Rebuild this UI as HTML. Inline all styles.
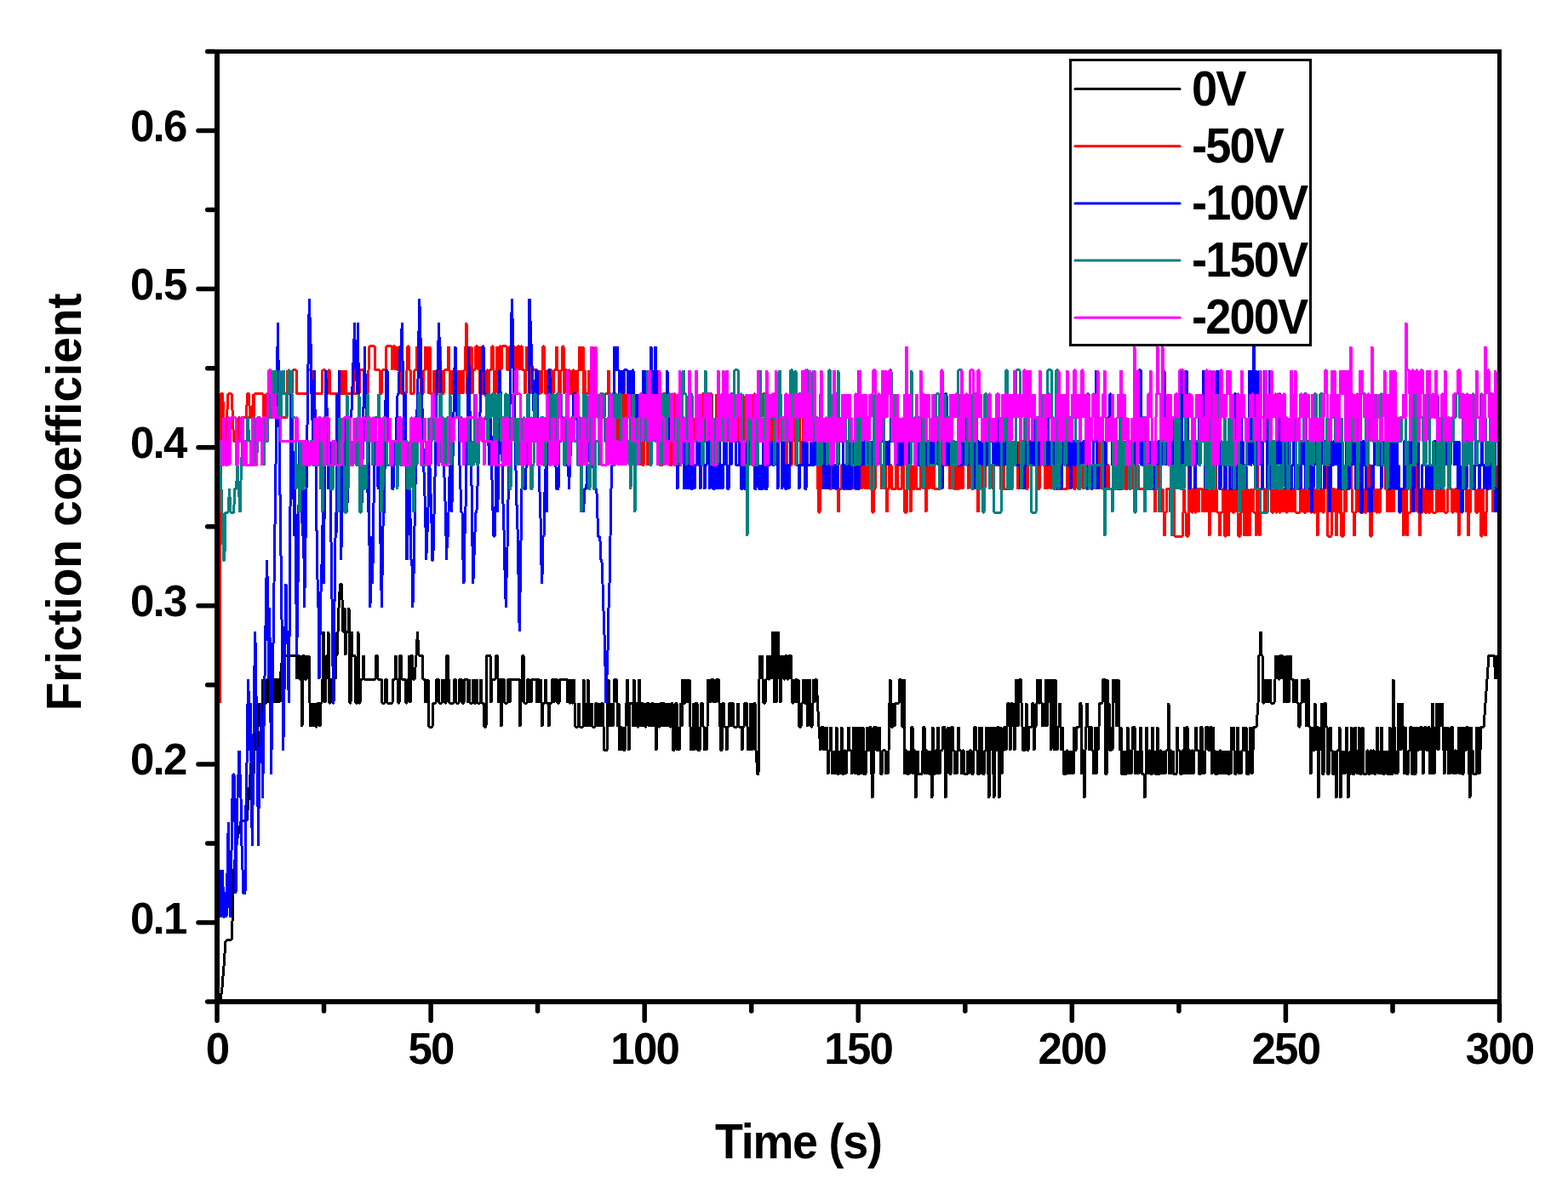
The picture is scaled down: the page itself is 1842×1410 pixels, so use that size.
<!DOCTYPE html>
<html><head><meta charset="utf-8"><title>Friction coefficient vs Time</title>
<style>
html,body{margin:0;padding:0;background:#fff;}
svg{display:block;}
text{font-family:"Liberation Sans",Arial,sans-serif;font-weight:bold;fill:#000;}
</style></head>
<body>
<svg width="1842" height="1410" viewBox="0 0 1842 1410">
<rect width="1842" height="1410" fill="#fff"/>
<defs><clipPath id="pc"><rect x="258" y="63" width="1501" height="1111"/></clipPath>
<clipPath id="lc"><rect x="1259" y="72" width="279" height="332"/></clipPath></defs>
<g clip-path="url(#pc)" fill="none" stroke-width="3" stroke-linejoin="bevel" shape-rendering="crispEdges">
<path d="M259.0 1175.0L261.0 1160.0L263.0 1135.0L265.0 1106.0L268.0 1104.0L272.0 1104.0L273.0 1083.0L274.0 1050.0L275.0 1021.0L277.0 1000.0L279.0 985.0L283.0 965.0L290.0 964.0L292.0 940.0L294.0 910.0L296.0 881.9L298.0 909.8L300.0 854.0L302.0 881.9L304.0 826.0L306.0 854.0L308.0 826.0L309.0 798.0L310.0 826.0L311.0 798.0L312.0 826.0L313.0 826.0L314.0 798.0L315.0 798.0L316.0 826.0L317.0 798.0L318.0 826.0L319.0 798.0L320.0 826.0L321.0 798.0L322.0 826.0L323.0 798.0L324.0 798.0L325.0 826.0L326.0 798.0L327.0 798.0L328.0 826.0L329.0 798.0L332.0 770.1L336.0 770.1L340.0 770.1L344.0 770.1L347.0 770.1L348.0 770.1L349.0 798.0L350.0 770.1L351.0 770.1L352.0 798.0L353.0 798.0L354.0 770.1L355.0 854.0L356.0 770.1L357.0 770.1L358.0 798.0L359.0 798.0L360.0 798.0L361.0 770.1L362.0 798.0L363.0 770.1L364.0 826.0L365.0 854.0L366.0 826.0L367.0 854.0L368.0 826.0L369.0 854.0L370.0 826.0L371.0 854.0L372.0 854.0L373.0 826.0L374.0 826.0L375.0 826.0L376.0 854.0L377.0 826.0L378.0 826.0L379.0 798.0L380.0 742.1L381.0 770.1L382.0 826.0L383.0 798.0L384.0 770.1L385.0 770.1L386.0 742.1L387.0 826.0L388.0 826.0L389.0 798.0L390.0 798.0L391.0 826.0L392.0 826.0L393.0 742.1L394.0 798.0L395.0 770.1L396.0 770.1L398.0 714.2L399.5 686.2L401.0 686.2L402.5 714.2L403.0 742.1L404.0 742.1L405.0 714.2L406.0 770.1L407.0 742.1L408.0 742.1L409.0 742.1L410.0 714.2L411.0 826.0L412.0 826.0L413.0 742.1L414.0 770.1L415.0 770.1L416.0 770.1L417.0 770.1L418.0 826.0L419.0 826.0L420.0 826.0L421.0 742.1L422.0 826.0L423.0 826.0L424.0 798.0L425.0 798.0L426.0 798.0L427.0 770.1L428.0 798.0L429.0 798.0L430.0 798.0L431.0 798.0L432.0 798.0L433.0 798.0L434.0 798.0L435.0 798.0L436.0 798.0L437.0 798.0L438.0 798.0L439.0 798.0L440.0 798.0L441.0 798.0L442.0 770.1L443.0 770.1L444.0 798.0L445.0 798.0L446.0 798.0L447.0 798.0L448.0 798.0L449.0 826.0L450.0 826.0L451.0 826.0L452.0 826.0L453.0 798.0L454.0 798.0L455.0 826.0L456.0 826.0L457.0 826.0L458.0 826.0L459.0 826.0L460.0 826.0L461.0 826.0L462.0 798.0L463.0 798.0L464.0 798.0L465.0 770.1L466.0 798.0L467.0 798.0L468.0 826.0L469.0 826.0L470.0 770.1L471.0 770.1L472.0 798.0L473.0 798.0L474.0 798.0L475.0 798.0L476.0 798.0L477.0 826.0L478.0 826.0L479.0 798.0L480.0 798.0L481.0 770.1L482.0 826.0L483.0 770.1L484.0 770.1L485.0 798.0L486.0 798.0L487.0 798.0L489.0 770.1L490.5 742.1L492.0 770.1L494.0 770.1L495.0 770.1L496.0 770.1L497.0 798.0L498.0 798.0L499.0 798.0L500.0 826.0L501.0 798.0L502.0 826.0L503.0 798.0L504.0 854.0L505.0 854.0L506.0 854.0L507.0 854.0L508.0 854.0L509.0 826.0L510.0 826.0L511.0 826.0L512.0 826.0L513.0 798.0L514.0 798.0L515.0 798.0L516.0 826.0L517.0 826.0L518.0 826.0L519.0 826.0L520.0 798.0L521.0 826.0L522.0 798.0L523.0 826.0L524.0 826.0L525.0 770.1L526.0 770.1L527.0 798.0L528.0 826.0L529.0 826.0L530.0 826.0L531.0 826.0L532.0 826.0L533.0 826.0L534.0 798.0L535.0 798.0L536.0 826.0L537.0 826.0L538.0 826.0L539.0 826.0L540.0 798.0L541.0 798.0L542.0 798.0L543.0 826.0L544.0 826.0L545.0 826.0L546.0 798.0L547.0 798.0L548.0 798.0L549.0 798.0L550.0 826.0L551.0 798.0L552.0 826.0L553.0 826.0L554.0 826.0L555.0 826.0L556.0 798.0L557.0 826.0L558.0 826.0L559.0 826.0L560.0 798.0L561.0 826.0L562.0 826.0L563.0 826.0L564.0 826.0L565.0 798.0L566.0 826.0L567.0 826.0L568.0 826.0L569.0 854.0L570.0 854.0L571.0 854.0L572.0 770.1L573.0 770.1L574.0 770.1L575.0 770.1L576.0 770.1L577.0 826.0L578.0 798.0L579.0 798.0L580.0 798.0L581.0 798.0L582.0 798.0L583.0 770.1L584.0 770.1L585.0 798.0L586.0 826.0L587.0 798.0L588.0 798.0L589.0 854.0L590.0 798.0L591.0 798.0L592.0 798.0L593.0 826.0L594.0 826.0L595.0 826.0L596.0 826.0L597.0 798.0L598.0 798.0L599.0 826.0L600.0 798.0L601.0 798.0L602.0 798.0L603.0 798.0L604.0 798.0L605.0 798.0L606.0 798.0L607.0 798.0L608.0 798.0L609.0 798.0L610.0 798.0L611.0 854.0L612.0 826.0L613.0 798.0L614.0 770.1L615.0 770.1L616.0 826.0L617.0 826.0L618.0 826.0L619.0 826.0L620.0 798.0L621.0 798.0L622.0 826.0L623.0 798.0L624.0 826.0L625.0 798.0L626.0 798.0L627.0 798.0L628.0 798.0L629.0 798.0L630.0 798.0L631.0 826.0L632.0 798.0L633.0 798.0L634.0 826.0L635.0 798.0L636.0 826.0L637.0 854.0L638.0 826.0L639.0 826.0L640.0 826.0L641.0 798.0L642.0 826.0L643.0 826.0L644.0 826.0L645.0 854.0L646.0 826.0L647.0 826.0L648.0 826.0L649.0 798.0L650.0 798.0L651.0 826.0L652.0 798.0L653.0 798.0L654.0 798.0L655.0 826.0L656.0 826.0L657.0 826.0L658.0 798.0L659.0 798.0L660.0 798.0L661.0 798.0L662.0 798.0L663.0 798.0L664.0 798.0L665.0 798.0L666.0 798.0L667.0 826.0L668.0 798.0L669.0 826.0L670.0 826.0L671.0 798.0L672.0 826.0L673.0 826.0L674.0 798.0L675.0 826.0L676.0 854.0L677.0 854.0L678.0 854.0L679.0 854.0L680.0 826.0L681.0 854.0L682.0 854.0L683.0 854.0L684.0 854.0L685.0 854.0L686.0 798.0L687.0 854.0L688.0 826.0L689.0 854.0L690.0 826.0L691.0 798.0L692.0 854.0L693.0 826.0L694.0 854.0L695.0 826.0L696.0 854.0L697.0 854.0L698.0 854.0L699.0 854.0L700.0 826.0L701.0 826.0L702.0 854.0L703.0 826.0L704.0 854.0L705.0 826.0L706.0 854.0L707.0 826.0L708.0 826.0L710.0 881.9L712.0 881.9L713.0 881.9L714.0 826.0L715.0 798.0L716.0 854.0L717.0 826.0L718.0 854.0L719.0 826.0L720.0 854.0L721.0 826.0L722.0 798.0L723.0 798.0L724.0 798.0L725.0 826.0L726.0 854.0L727.0 826.0L728.0 881.9L729.0 854.0L730.0 854.0L731.0 881.9L732.0 854.0L733.0 881.9L734.0 881.9L735.0 854.0L736.0 826.0L737.0 798.0L738.0 826.0L739.0 881.9L740.0 826.0L741.0 826.0L742.0 826.0L743.0 826.0L744.0 854.0L745.0 798.0L746.0 854.0L747.0 826.0L748.0 826.0L749.0 854.0L750.0 854.0L751.0 798.0L752.0 826.0L753.0 854.0L754.0 826.0L755.0 826.0L756.0 854.0L757.0 826.0L758.0 854.0L759.0 854.0L760.0 826.0L761.0 826.0L762.0 826.0L763.0 854.0L764.0 826.0L765.0 854.0L766.0 826.0L767.0 826.0L768.0 854.0L769.0 826.0L770.0 854.0L771.0 881.9L772.0 854.0L773.0 826.0L774.0 854.0L775.0 854.0L776.0 826.0L777.0 826.0L778.0 854.0L779.0 826.0L780.0 826.0L781.0 854.0L782.0 826.0L783.0 854.0L784.0 826.0L785.0 854.0L786.0 826.0L787.0 854.0L788.0 854.0L789.0 826.0L790.0 826.0L791.0 881.9L792.0 881.9L793.0 854.0L794.0 826.0L795.0 826.0L796.0 881.9L797.0 854.0L798.0 881.9L799.0 854.0L800.0 826.0L801.0 854.0L802.0 798.0L803.0 826.0L804.0 826.0L805.0 826.0L806.0 798.0L807.0 826.0L808.0 798.0L809.0 826.0L810.0 798.0L811.0 854.0L812.0 881.9L813.0 854.0L814.0 881.9L815.0 826.0L816.0 881.9L817.0 826.0L818.0 826.0L819.0 826.0L820.0 881.9L821.0 881.9L822.0 881.9L823.0 854.0L824.0 826.0L825.0 826.0L826.0 854.0L827.0 854.0L828.0 881.9L829.0 854.0L830.0 881.9L831.0 854.0L832.0 798.0L833.0 826.0L834.0 798.0L835.0 826.0L836.0 798.0L837.0 798.0L838.0 798.0L839.0 826.0L840.0 798.0L841.0 826.0L842.0 798.0L843.0 798.0L844.0 798.0L845.0 826.0L846.0 854.0L847.0 881.9L848.0 881.9L849.0 826.0L850.0 826.0L851.0 854.0L852.0 854.0L853.0 854.0L854.0 881.9L855.0 854.0L856.0 854.0L857.0 826.0L858.0 826.0L859.0 854.0L860.0 826.0L861.0 826.0L862.0 854.0L863.0 854.0L864.0 854.0L865.0 854.0L866.0 854.0L867.0 826.0L868.0 854.0L869.0 854.0L870.0 854.0L871.0 854.0L872.0 881.9L873.0 854.0L874.0 854.0L875.0 826.0L876.0 826.0L877.0 826.0L878.0 854.0L879.0 881.9L880.0 854.0L881.0 881.9L882.0 826.0L883.0 854.0L884.0 881.9L885.0 854.0L886.0 826.0L887.0 826.0L888.0 881.9L890.0 909.8L891.0 909.8L892.0 798.0L893.0 770.1L894.0 798.0L895.0 770.1L896.0 798.0L897.0 826.0L898.0 826.0L899.0 826.0L900.0 798.0L901.0 798.0L902.0 770.1L903.0 798.0L904.0 798.0L905.0 770.1L906.0 798.0L907.0 770.1L908.0 742.1L909.0 798.0L910.0 826.0L911.0 742.1L912.0 826.0L913.0 798.0L914.0 742.1L915.0 770.1L916.0 798.0L917.0 826.0L918.0 770.1L919.0 798.0L920.0 770.1L921.0 798.0L922.0 798.0L923.0 770.1L924.0 770.1L925.0 798.0L926.0 798.0L927.0 770.1L928.0 770.1L929.0 770.1L930.0 798.0L931.0 826.0L932.0 826.0L933.0 798.0L934.0 826.0L935.0 798.0L936.0 798.0L937.0 826.0L938.0 798.0L939.0 854.0L940.0 854.0L941.0 854.0L942.0 826.0L943.0 826.0L944.0 798.0L945.0 826.0L946.0 826.0L947.0 826.0L948.0 798.0L949.0 854.0L950.0 826.0L951.0 798.0L952.0 826.0L953.0 854.0L954.0 854.0L955.0 826.0L956.0 798.0L957.0 826.0L958.0 798.0L959.0 798.0L962.0 854.0L964.0 881.9L965.0 854.0L966.0 854.0L967.0 854.0L968.0 881.9L969.0 854.0L970.0 881.9L971.0 854.0L972.0 881.9L973.0 909.8L974.0 881.9L975.0 881.9L976.0 854.0L977.0 881.9L978.0 909.8L979.0 881.9L980.0 909.8L981.0 881.9L982.0 909.8L983.0 854.0L984.0 909.8L985.0 909.8L986.0 881.9L987.0 909.8L988.0 881.9L989.0 854.0L990.0 909.8L991.0 909.8L992.0 881.9L993.0 881.9L994.0 909.8L995.0 881.9L996.0 881.9L997.0 854.0L998.0 881.9L999.0 881.9L1000.0 881.9L1001.0 909.8L1002.0 881.9L1003.0 854.0L1004.0 881.9L1005.0 909.8L1006.0 881.9L1007.0 854.0L1008.0 909.8L1009.0 909.8L1010.0 854.0L1011.0 881.9L1012.0 909.8L1013.0 881.9L1014.0 854.0L1015.0 909.8L1016.0 909.8L1017.0 909.8L1018.0 881.9L1019.0 854.0L1020.0 881.9L1021.0 881.9L1022.0 854.0L1023.0 854.0L1024.0 909.8L1025.0 937.8L1026.0 909.8L1027.0 854.0L1028.0 854.0L1029.0 854.0L1030.0 881.9L1031.0 881.9L1032.0 881.9L1033.0 854.0L1034.0 881.9L1035.0 909.8L1036.0 909.8L1037.0 881.9L1038.0 881.9L1039.0 881.9L1040.0 881.9L1041.0 909.8L1042.0 881.9L1043.0 909.8L1044.0 881.9L1045.0 826.0L1046.0 798.0L1047.0 854.0L1048.0 854.0L1049.0 854.0L1050.0 826.0L1051.0 854.0L1052.0 826.0L1053.0 826.0L1054.0 826.0L1055.0 826.0L1056.0 826.0L1057.0 798.0L1058.0 798.0L1059.0 826.0L1060.0 854.0L1061.0 854.0L1062.0 798.0L1063.0 909.8L1064.0 881.9L1065.0 881.9L1066.0 909.8L1067.0 909.8L1068.0 881.9L1069.0 909.8L1070.0 881.9L1071.0 854.0L1072.0 854.0L1073.0 909.8L1074.0 881.9L1075.0 881.9L1076.0 937.8L1077.0 909.8L1078.0 881.9L1079.0 909.8L1080.0 909.8L1081.0 909.8L1082.0 909.8L1083.0 909.8L1084.0 881.9L1085.0 854.0L1086.0 854.0L1087.0 909.8L1088.0 881.9L1089.0 881.9L1090.0 909.8L1091.0 881.9L1092.0 909.8L1093.0 909.8L1094.0 881.9L1095.0 937.8L1096.0 854.0L1097.0 909.8L1098.0 909.8L1099.0 881.9L1100.0 881.9L1101.0 909.8L1102.0 854.0L1103.0 881.9L1104.0 909.8L1105.0 881.9L1106.0 881.9L1107.0 881.9L1108.0 854.0L1109.0 854.0L1110.0 854.0L1111.0 937.8L1112.0 909.8L1113.0 881.9L1114.0 854.0L1115.0 881.9L1116.0 909.8L1117.0 909.8L1118.0 854.0L1119.0 854.0L1120.0 881.9L1121.0 881.9L1122.0 909.8L1123.0 881.9L1124.0 909.8L1125.0 881.9L1126.0 854.0L1127.0 881.9L1128.0 881.9L1129.0 881.9L1130.0 909.8L1131.0 881.9L1132.0 881.9L1133.0 909.8L1134.0 909.8L1135.0 909.8L1136.0 909.8L1137.0 881.9L1138.0 909.8L1139.0 881.9L1140.0 881.9L1141.0 881.9L1142.0 909.8L1143.0 909.8L1144.0 881.9L1145.0 854.0L1146.0 854.0L1147.0 881.9L1148.0 881.9L1149.0 909.8L1150.0 909.8L1151.0 854.0L1152.0 909.8L1153.0 854.0L1154.0 881.9L1155.0 909.8L1156.0 909.8L1157.0 881.9L1158.0 881.9L1159.0 854.0L1160.0 881.9L1161.0 909.8L1162.0 937.8L1163.0 854.0L1164.0 881.9L1165.0 854.0L1166.0 881.9L1167.0 909.8L1168.0 937.8L1169.0 854.0L1170.0 881.9L1171.0 881.9L1172.0 854.0L1173.0 854.0L1174.0 937.8L1175.0 909.8L1176.0 854.0L1177.0 909.8L1178.0 881.9L1179.0 881.9L1180.0 854.0L1181.0 854.0L1182.0 881.9L1183.0 854.0L1184.0 826.0L1185.0 826.0L1186.0 854.0L1187.0 881.9L1188.0 826.0L1189.0 826.0L1190.0 854.0L1191.0 826.0L1192.0 881.9L1193.0 826.0L1194.0 798.0L1195.0 826.0L1196.0 854.0L1197.0 826.0L1198.0 798.0L1199.0 798.0L1200.0 826.0L1201.0 854.0L1202.0 881.9L1203.0 881.9L1204.0 881.9L1205.0 854.0L1206.0 826.0L1207.0 881.9L1208.0 881.9L1209.0 854.0L1210.0 854.0L1211.0 854.0L1212.0 854.0L1213.0 826.0L1214.0 826.0L1215.0 881.9L1216.0 854.0L1217.0 854.0L1218.0 826.0L1219.0 798.0L1220.0 826.0L1221.0 826.0L1222.0 798.0L1223.0 826.0L1224.0 826.0L1225.0 854.0L1226.0 826.0L1227.0 854.0L1228.0 826.0L1229.0 798.0L1230.0 854.0L1231.0 826.0L1232.0 798.0L1233.0 826.0L1234.0 798.0L1235.0 881.9L1236.0 798.0L1237.0 826.0L1238.0 798.0L1239.0 881.9L1240.0 798.0L1241.0 854.0L1242.0 881.9L1243.0 854.0L1244.0 854.0L1245.0 826.0L1246.0 854.0L1247.0 881.9L1248.0 854.0L1249.0 881.9L1250.0 909.8L1251.0 909.8L1252.0 909.8L1253.0 881.9L1254.0 881.9L1255.0 909.8L1256.0 881.9L1257.0 909.8L1258.0 881.9L1259.0 909.8L1260.0 881.9L1261.0 909.8L1262.0 854.0L1263.0 881.9L1264.0 881.9L1265.0 854.0L1266.0 854.0L1267.0 854.0L1268.0 854.0L1269.0 826.0L1270.0 826.0L1271.0 909.8L1272.0 881.9L1273.0 881.9L1274.0 937.8L1275.0 881.9L1276.0 854.0L1277.0 826.0L1278.0 854.0L1279.0 854.0L1280.0 881.9L1281.0 854.0L1282.0 854.0L1283.0 881.9L1284.0 881.9L1285.0 909.8L1286.0 881.9L1287.0 854.0L1288.0 909.8L1289.0 854.0L1290.0 881.9L1291.0 854.0L1292.0 826.0L1293.0 826.0L1294.0 826.0L1295.0 826.0L1296.0 798.0L1297.0 798.0L1298.0 798.0L1299.0 909.8L1300.0 909.8L1301.0 798.0L1302.0 854.0L1303.0 826.0L1304.0 881.9L1305.0 881.9L1306.0 854.0L1307.0 881.9L1308.0 798.0L1309.0 826.0L1310.0 798.0L1311.0 826.0L1312.0 854.0L1313.0 826.0L1314.0 798.0L1315.0 854.0L1316.0 881.9L1317.0 854.0L1318.0 909.8L1319.0 909.8L1320.0 881.9L1321.0 909.8L1322.0 909.8L1323.0 909.8L1324.0 881.9L1325.0 854.0L1326.0 909.8L1327.0 881.9L1328.0 881.9L1329.0 909.8L1330.0 881.9L1331.0 854.0L1332.0 854.0L1333.0 854.0L1334.0 909.8L1335.0 881.9L1336.0 909.8L1337.0 881.9L1338.0 909.8L1339.0 881.9L1340.0 854.0L1341.0 881.9L1342.0 909.8L1343.0 909.8L1344.0 909.8L1345.0 937.8L1346.0 909.8L1347.0 854.0L1348.0 881.9L1349.0 909.8L1350.0 881.9L1351.0 881.9L1352.0 909.8L1353.0 909.8L1354.0 854.0L1355.0 881.9L1356.0 909.8L1357.0 881.9L1358.0 909.8L1359.0 909.8L1360.0 854.0L1361.0 909.8L1362.0 909.8L1363.0 881.9L1364.0 881.9L1365.0 909.8L1366.0 881.9L1367.0 909.8L1368.0 881.9L1369.0 909.8L1370.0 881.9L1371.0 881.9L1372.0 881.9L1373.0 826.0L1374.0 909.8L1375.0 881.9L1376.0 881.9L1377.0 909.8L1378.0 881.9L1379.0 909.8L1380.0 909.8L1381.0 909.8L1382.0 909.8L1383.0 854.0L1384.0 881.9L1385.0 881.9L1386.0 881.9L1387.0 909.8L1388.0 909.8L1389.0 881.9L1390.0 881.9L1391.0 909.8L1392.0 854.0L1393.0 909.8L1394.0 854.0L1395.0 854.0L1396.0 909.8L1397.0 881.9L1398.0 881.9L1399.0 909.8L1400.0 881.9L1401.0 881.9L1402.0 909.8L1403.0 881.9L1404.0 881.9L1405.0 854.0L1406.0 881.9L1407.0 881.9L1408.0 881.9L1409.0 909.8L1410.0 909.8L1411.0 854.0L1412.0 854.0L1413.0 909.8L1414.0 881.9L1415.0 909.8L1416.0 881.9L1417.0 854.0L1418.0 854.0L1419.0 854.0L1420.0 881.9L1421.0 881.9L1422.0 854.0L1423.0 854.0L1424.0 909.8L1425.0 854.0L1426.0 881.9L1427.0 881.9L1428.0 909.8L1429.0 909.8L1430.0 909.8L1431.0 881.9L1432.0 909.8L1433.0 881.9L1434.0 881.9L1435.0 909.8L1436.0 881.9L1437.0 909.8L1438.0 881.9L1439.0 909.8L1440.0 881.9L1441.0 909.8L1442.0 881.9L1443.0 909.8L1444.0 909.8L1445.0 881.9L1446.0 909.8L1447.0 854.0L1448.0 881.9L1449.0 854.0L1450.0 881.9L1451.0 909.8L1452.0 909.8L1453.0 881.9L1454.0 854.0L1455.0 881.9L1456.0 909.8L1457.0 881.9L1458.0 909.8L1459.0 881.9L1460.0 881.9L1461.0 854.0L1462.0 881.9L1463.0 881.9L1464.0 854.0L1465.0 909.8L1466.0 909.8L1467.0 909.8L1468.0 881.9L1469.0 854.0L1470.0 881.9L1471.0 909.8L1472.0 881.9L1473.0 854.0L1474.0 854.0L1476.0 854.0L1478.0 826.0L1479.0 770.1L1480.0 770.1L1481.0 742.1L1482.0 770.1L1483.0 770.1L1484.0 826.0L1485.0 826.0L1486.0 798.0L1487.0 826.0L1488.0 798.0L1489.0 826.0L1490.0 798.0L1491.0 826.0L1492.0 798.0L1493.0 826.0L1494.0 826.0L1495.0 826.0L1496.0 826.0L1497.0 826.0L1498.0 798.0L1499.0 770.1L1500.0 798.0L1501.0 770.1L1502.0 798.0L1503.0 798.0L1504.0 770.1L1505.0 770.1L1506.0 770.1L1507.0 798.0L1508.0 770.1L1509.0 826.0L1510.0 798.0L1511.0 826.0L1512.0 770.1L1513.0 798.0L1514.0 826.0L1515.0 798.0L1516.0 770.1L1517.0 798.0L1518.0 798.0L1519.0 798.0L1520.0 826.0L1521.0 798.0L1522.0 826.0L1523.0 798.0L1524.0 826.0L1525.0 826.0L1526.0 854.0L1527.0 854.0L1528.0 826.0L1529.0 826.0L1530.0 798.0L1531.0 826.0L1532.0 798.0L1533.0 826.0L1534.0 798.0L1535.0 854.0L1536.0 798.0L1537.0 798.0L1538.0 854.0L1539.0 854.0L1540.0 909.8L1541.0 881.9L1542.0 854.0L1543.0 881.9L1544.0 881.9L1545.0 826.0L1546.0 881.9L1547.0 854.0L1548.0 854.0L1549.0 937.8L1550.0 881.9L1551.0 854.0L1552.0 881.9L1553.0 826.0L1554.0 909.8L1555.0 909.8L1556.0 826.0L1557.0 826.0L1558.0 854.0L1559.0 854.0L1560.0 909.8L1561.0 909.8L1562.0 881.9L1563.0 854.0L1564.0 881.9L1565.0 881.9L1566.0 909.8L1567.0 909.8L1568.0 881.9L1569.0 909.8L1570.0 937.8L1571.0 881.9L1572.0 881.9L1573.0 881.9L1574.0 854.0L1575.0 937.8L1576.0 909.8L1577.0 881.9L1578.0 909.8L1579.0 881.9L1580.0 909.8L1581.0 881.9L1582.0 854.0L1583.0 881.9L1584.0 937.8L1585.0 909.8L1586.0 909.8L1587.0 881.9L1588.0 854.0L1589.0 909.8L1590.0 909.8L1591.0 909.8L1592.0 854.0L1593.0 881.9L1594.0 881.9L1595.0 909.8L1596.0 881.9L1597.0 854.0L1598.0 909.8L1599.0 909.8L1600.0 881.9L1601.0 854.0L1602.0 909.8L1603.0 909.8L1604.0 909.8L1605.0 909.8L1606.0 881.9L1607.0 881.9L1608.0 909.8L1609.0 909.8L1610.0 881.9L1611.0 881.9L1612.0 909.8L1613.0 881.9L1614.0 881.9L1615.0 909.8L1616.0 909.8L1617.0 881.9L1618.0 854.0L1619.0 881.9L1620.0 909.8L1621.0 881.9L1622.0 909.8L1623.0 854.0L1624.0 881.9L1625.0 909.8L1626.0 909.8L1627.0 881.9L1628.0 909.8L1629.0 881.9L1630.0 909.8L1631.0 909.8L1632.0 909.8L1633.0 854.0L1634.0 909.8L1635.0 909.8L1636.0 909.8L1637.0 798.0L1638.0 854.0L1639.0 881.9L1640.0 909.8L1641.0 881.9L1642.0 909.8L1643.0 826.0L1644.0 881.9L1645.0 826.0L1646.0 881.9L1647.0 826.0L1648.0 854.0L1649.0 854.0L1650.0 909.8L1651.0 854.0L1652.0 881.9L1653.0 909.8L1654.0 909.8L1655.0 881.9L1656.0 881.9L1657.0 854.0L1658.0 854.0L1659.0 909.8L1660.0 909.8L1661.0 854.0L1662.0 909.8L1663.0 909.8L1664.0 854.0L1665.0 881.9L1666.0 881.9L1667.0 854.0L1668.0 881.9L1669.0 854.0L1670.0 854.0L1671.0 881.9L1672.0 909.8L1673.0 881.9L1674.0 854.0L1675.0 854.0L1676.0 881.9L1677.0 881.9L1678.0 854.0L1679.0 854.0L1680.0 909.8L1681.0 881.9L1682.0 909.8L1683.0 826.0L1684.0 854.0L1685.0 909.8L1686.0 881.9L1687.0 854.0L1688.0 826.0L1689.0 854.0L1690.0 881.9L1691.0 854.0L1692.0 826.0L1693.0 854.0L1694.0 826.0L1695.0 854.0L1696.0 881.9L1697.0 909.8L1698.0 881.9L1699.0 854.0L1700.0 881.9L1701.0 854.0L1702.0 909.8L1703.0 881.9L1704.0 909.8L1705.0 854.0L1706.0 854.0L1707.0 881.9L1708.0 909.8L1709.0 881.9L1710.0 881.9L1711.0 909.8L1712.0 881.9L1713.0 881.9L1714.0 854.0L1715.0 909.8L1716.0 854.0L1717.0 881.9L1718.0 909.8L1719.0 909.8L1720.0 854.0L1721.0 881.9L1722.0 881.9L1723.0 854.0L1724.0 854.0L1725.0 881.9L1726.0 909.8L1727.0 937.8L1728.0 854.0L1729.0 881.9L1730.0 881.9L1731.0 909.8L1732.0 909.8L1733.0 909.8L1734.0 909.8L1735.0 854.0L1736.0 909.8L1737.0 854.0L1738.0 909.8L1739.0 881.9L1740.0 854.0L1741.0 854.0L1743.0 854.0L1745.0 826.0L1747.0 798.0L1749.0 770.1L1752.0 770.1L1755.0 770.1L1757.0 798.0L1759.0 770.1" stroke="#000000"/>
<path d="M258.6 826.0L259.4 462.6L260.5 462.6L261.5 462.6L263.0 490.6L264.0 518.5L265.5 518.5L266.5 490.6L268.0 462.6L270.0 462.6L272.0 462.6L273.5 490.6L274.5 518.5L275.5 518.5L276.5 518.5L277.5 518.5L278.5 518.5L279.5 518.5L280.5 490.6L281.5 490.6L282.5 518.5L283.5 518.5L284.5 518.5L285.5 490.6L286.5 490.6L287.5 490.6L288.5 490.6L289.5 490.6L290.5 462.6L291.5 462.6L292.5 462.6L293.5 490.6L294.5 490.6L295.5 490.6L296.5 490.6L297.5 462.6L298.5 518.5L299.0 462.6L300.0 462.6L301.0 462.6L302.0 462.6L303.0 462.6L304.0 462.6L305.0 462.6L306.0 462.6L307.0 462.6L308.0 462.6L309.0 462.6L310.0 490.6L311.0 490.6L312.0 490.6L313.0 462.6L314.0 462.6L315.0 462.6L316.0 462.6L317.0 462.6L318.0 462.6L319.0 462.6L320.0 490.6L321.0 490.6L322.0 490.6L323.0 490.6L324.0 490.6L325.0 490.6L326.0 490.6L327.0 490.6L328.0 490.6L329.0 490.6L330.0 490.6L331.0 490.6L332.0 490.6L333.0 490.6L334.0 490.6L335.0 490.6L336.0 490.6L337.0 490.6L338.0 434.7L339.0 462.6L340.0 462.6L341.0 462.6L342.0 462.6L343.0 462.6L344.0 434.7L345.0 434.7L346.0 434.7L347.0 434.7L348.0 434.7L349.0 462.6L350.0 462.6L351.0 462.6L352.0 462.6L353.0 462.6L354.0 462.6L355.0 462.6L356.0 462.6L357.0 462.6L358.0 462.6L359.0 462.6L360.0 462.6L361.0 462.6L362.0 434.7L363.0 434.7L364.0 434.7L365.0 434.7L366.0 434.7L367.0 462.6L368.0 462.6L369.0 462.6L370.0 462.6L371.0 462.6L372.0 462.6L373.0 462.6L374.0 462.6L375.0 462.6L376.0 462.6L377.0 462.6L378.0 462.6L379.0 434.7L380.0 434.7L381.0 434.7L382.0 434.7L383.0 462.6L384.0 462.6L385.0 462.6L386.0 434.7L387.0 434.7L388.0 462.6L389.0 462.6L390.0 462.6L391.0 462.6L392.0 462.6L393.0 462.6L394.0 462.6L395.0 462.6L396.0 462.6L397.0 462.6L398.0 462.6L399.0 462.6L400.0 462.6L401.0 462.6L402.0 434.7L403.0 462.6L404.0 462.6L405.0 462.6L406.0 434.7L407.0 462.6L408.0 462.6L409.0 462.6L410.0 462.6L411.0 462.6L412.0 462.6L413.0 462.6L414.0 462.6L415.0 434.7L416.0 462.6L417.0 462.6L418.0 462.6L419.0 462.6L420.0 462.6L421.0 462.6L422.0 462.6L423.0 434.7L424.0 434.7L425.0 434.7L426.0 434.7L427.0 434.7L428.0 462.6L429.0 462.6L430.0 462.6L431.0 462.6L432.0 462.6L433.0 434.7L434.0 406.8L435.0 406.8L436.0 406.8L437.0 406.8L438.0 406.8L439.0 406.8L440.0 406.8L441.0 434.7L442.0 434.7L443.0 434.7L444.0 434.7L445.0 434.7L446.0 434.7L447.0 462.6L448.0 462.6L449.0 434.7L450.0 434.7L451.0 434.7L452.0 434.7L453.0 434.7L454.0 406.8L455.0 406.8L456.0 406.8L457.0 406.8L458.0 406.8L459.0 406.8L460.0 406.8L461.0 434.7L462.0 406.8L463.0 406.8L464.0 406.8L465.0 434.7L466.0 406.8L467.0 434.7L468.0 434.7L469.0 434.7L470.0 406.8L471.0 434.7L472.0 462.6L473.0 462.6L474.0 462.6L475.0 462.6L476.0 462.6L477.0 462.6L478.0 434.7L479.0 406.8L480.0 406.8L481.0 434.7L482.0 434.7L483.0 462.6L484.0 462.6L485.0 462.6L486.0 462.6L487.0 434.7L488.0 434.7L489.0 434.7L490.0 406.8L491.0 434.7L492.0 434.7L493.0 434.7L494.0 434.7L495.0 462.6L496.0 462.6L497.0 462.6L498.0 434.7L499.0 434.7L500.0 406.8L501.0 434.7L502.0 406.8L503.0 434.7L504.0 462.6L505.0 406.8L506.0 462.6L507.0 462.6L508.0 462.6L509.0 462.6L510.0 434.7L511.0 462.6L512.0 462.6L513.0 462.6L514.0 462.6L515.0 406.8L516.0 434.7L517.0 406.8L518.0 434.7L519.0 462.6L520.0 462.6L521.0 462.6L522.0 434.7L523.0 434.7L524.0 434.7L525.0 434.7L526.0 434.7L527.0 406.8L528.0 434.7L529.0 462.6L530.0 462.6L531.0 462.6L532.0 434.7L533.0 462.6L534.0 462.6L535.0 462.6L536.0 462.6L537.0 462.6L538.0 434.7L539.0 462.6L540.0 462.6L541.0 434.7L542.0 462.6L543.0 434.7L544.0 462.6L545.0 434.7L546.0 434.7L547.0 406.8L548.0 378.8L549.0 462.6L550.0 462.6L551.0 434.7L552.0 434.7L553.0 434.7L554.0 406.8L555.0 462.6L556.0 434.7L557.0 434.7L558.0 434.7L559.0 406.8L560.0 406.8L561.0 406.8L562.0 434.7L563.0 406.8L564.0 462.6L565.0 406.8L566.0 462.6L567.0 462.6L568.0 462.6L569.0 434.7L570.0 462.6L571.0 462.6L572.0 434.7L573.0 434.7L574.0 462.6L575.0 434.7L576.0 434.7L577.0 434.7L578.0 406.8L579.0 406.8L580.0 434.7L581.0 462.6L582.0 462.6L583.0 434.7L584.0 406.8L585.0 434.7L586.0 462.6L587.0 406.8L588.0 406.8L589.0 434.7L590.0 406.8L591.0 406.8L592.0 406.8L593.0 406.8L594.0 406.8L595.0 406.8L596.0 434.7L597.0 434.7L598.0 434.7L599.0 406.8L600.0 406.8L601.0 406.8L602.0 406.8L603.0 406.8L604.0 406.8L605.0 434.7L606.0 462.6L607.0 462.6L608.0 406.8L609.0 406.8L610.0 406.8L611.0 434.7L612.0 406.8L613.0 406.8L614.0 434.7L615.0 434.7L616.0 434.7L617.0 462.6L618.0 434.7L619.0 406.8L620.0 434.7L621.0 434.7L622.0 406.8L623.0 406.8L624.0 406.8L625.0 462.6L626.0 434.7L627.0 434.7L628.0 434.7L629.0 434.7L630.0 462.6L631.0 462.6L632.0 434.7L633.0 462.6L634.0 462.6L635.0 434.7L636.0 462.6L637.0 434.7L638.0 406.8L639.0 406.8L640.0 434.7L641.0 462.6L642.0 462.6L643.0 434.7L644.0 462.6L645.0 462.6L646.0 434.7L647.0 434.7L648.0 434.7L649.0 462.6L650.0 462.6L651.0 434.7L652.0 434.7L653.0 434.7L654.0 406.8L655.0 434.7L656.0 434.7L657.0 462.6L658.0 462.6L659.0 434.7L660.0 434.7L661.0 406.8L662.0 406.8L663.0 462.6L664.0 434.7L665.0 434.7L666.0 434.7L667.0 462.6L668.0 434.7L669.0 434.7L670.0 462.6L671.0 462.6L672.0 462.6L673.0 434.7L674.0 434.7L675.0 462.6L676.0 462.6L677.0 434.7L678.0 462.6L679.0 434.7L680.0 434.7L681.0 406.8L682.0 434.7L683.0 434.7L684.0 434.7L685.0 406.8L686.0 462.6L687.0 434.7L688.0 462.6L689.0 462.6L690.0 462.6L691.0 462.6L692.0 434.7L693.0 462.6L694.0 462.6L695.0 462.6L696.0 406.8L697.0 462.6L698.0 434.7L699.0 434.7L700.0 434.7L701.0 462.6L702.0 490.6L703.0 490.6L704.0 490.6L705.0 490.6L706.0 490.6L707.0 490.6L708.0 490.6L709.0 462.6L710.0 490.6L711.0 462.6L712.0 462.6L713.0 462.6L714.0 462.6L715.0 434.7L716.0 462.6L717.0 490.6L718.0 490.6L719.0 490.6L720.0 490.6L721.0 462.6L722.0 462.6L723.0 462.6L724.0 462.6L725.0 490.6L726.0 518.5L727.0 490.6L728.0 462.6L729.0 462.6L730.0 462.6L731.0 490.6L732.0 490.6L733.0 434.7L734.0 462.6L735.0 490.6L736.0 490.6L737.0 490.6L738.0 462.6L739.0 490.6L740.0 490.6L741.0 518.5L742.0 462.6L743.0 490.6L744.0 490.6L745.0 490.6L746.0 546.5L747.0 490.6L748.0 490.6L749.0 490.6L750.0 490.6L751.0 490.6L752.0 490.6L753.0 546.5L754.0 490.6L755.0 546.5L756.0 546.5L757.0 518.5L758.0 490.6L759.0 518.5L760.0 490.6L761.0 546.5L762.0 518.5L763.0 462.6L764.0 462.6L765.0 546.5L766.0 490.6L767.0 462.6L768.0 462.6L769.0 462.6L770.0 462.6L771.0 518.5L772.0 490.6L773.0 518.5L774.0 518.5L775.0 462.6L776.0 462.6L777.0 546.5L778.0 546.5L779.0 462.6L780.0 462.6L781.0 462.6L782.0 462.6L783.0 462.6L784.0 462.6L785.0 462.6L786.0 490.6L787.0 546.5L788.0 546.5L789.0 546.5L790.0 490.6L791.0 518.5L792.0 462.6L793.0 462.6L794.0 518.5L795.0 518.5L796.0 490.6L797.0 490.6L798.0 546.5L799.0 546.5L800.0 546.5L801.0 490.6L802.0 490.6L803.0 490.6L804.0 518.5L805.0 490.6L806.0 490.6L807.0 518.5L808.0 490.6L809.0 546.5L810.0 546.5L811.0 546.5L812.0 490.6L813.0 546.5L814.0 546.5L815.0 518.5L816.0 518.5L817.0 490.6L818.0 518.5L819.0 490.6L820.0 518.5L821.0 546.5L822.0 546.5L823.0 462.6L824.0 518.5L825.0 462.6L826.0 462.6L827.0 462.6L828.0 518.5L829.0 518.5L830.0 490.6L831.0 462.6L832.0 462.6L833.0 490.6L834.0 490.6L835.0 462.6L836.0 462.6L837.0 518.5L838.0 490.6L839.0 518.5L840.0 518.5L841.0 518.5L842.0 462.6L843.0 546.5L844.0 546.5L845.0 462.6L846.0 490.6L847.0 490.6L848.0 490.6L849.0 518.5L850.0 490.6L851.0 518.5L852.0 490.6L853.0 518.5L854.0 490.6L855.0 518.5L856.0 490.6L857.0 462.6L858.0 490.6L859.0 462.6L860.0 462.6L861.0 462.6L862.0 462.6L863.0 490.6L864.0 518.5L865.0 518.5L866.0 518.5L867.0 462.6L868.0 490.6L869.0 518.5L870.0 490.6L871.0 462.6L872.0 490.6L873.0 462.6L874.0 546.5L875.0 518.5L876.0 490.6L877.0 546.5L878.0 518.5L879.0 490.6L880.0 518.5L881.0 518.5L882.0 518.5L883.0 518.5L884.0 546.5L885.0 546.5L886.0 462.6L887.0 462.6L888.0 490.6L889.0 490.6L890.0 490.6L891.0 490.6L892.0 490.6L893.0 490.6L894.0 490.6L895.0 490.6L896.0 462.6L897.0 462.6L898.0 462.6L899.0 462.6L900.0 462.6L901.0 518.5L902.0 490.6L903.0 518.5L904.0 462.6L905.0 490.6L906.0 518.5L907.0 546.5L908.0 490.6L909.0 462.6L910.0 462.6L911.0 490.6L912.0 518.5L913.0 546.5L914.0 462.6L915.0 462.6L916.0 462.6L917.0 518.5L918.0 518.5L919.0 490.6L920.0 518.5L921.0 518.5L922.0 490.6L923.0 518.5L924.0 546.5L925.0 490.6L926.0 490.6L927.0 490.6L928.0 490.6L929.0 546.5L930.0 546.5L931.0 518.5L932.0 490.6L933.0 518.5L934.0 490.6L935.0 546.5L936.0 518.5L937.0 490.6L938.0 462.6L939.0 462.6L940.0 518.5L941.0 546.5L942.0 546.5L943.0 518.5L944.0 490.6L945.0 462.6L946.0 462.6L947.0 490.6L948.0 518.5L949.0 518.5L950.0 490.6L951.0 490.6L952.0 490.6L953.0 546.5L954.0 546.5L955.0 518.5L956.0 490.6L957.0 518.5L958.0 518.5L959.0 518.5L960.0 518.5L961.0 574.5L962.0 602.4L963.0 602.4L964.0 546.5L965.0 574.5L966.0 546.5L967.0 574.5L968.0 546.5L969.0 546.5L970.0 574.5L971.0 546.5L972.0 546.5L973.0 546.5L974.0 546.5L975.0 574.5L976.0 574.5L977.0 546.5L978.0 546.5L979.0 574.5L980.0 546.5L981.0 546.5L982.0 574.5L983.0 574.5L984.0 574.5L985.0 602.4L986.0 574.5L987.0 574.5L988.0 574.5L989.0 546.5L990.0 546.5L991.0 574.5L992.0 574.5L993.0 574.5L994.0 574.5L995.0 546.5L996.0 574.5L997.0 546.5L998.0 574.5L999.0 574.5L1000.0 574.5L1001.0 546.5L1002.0 574.5L1003.0 546.5L1004.0 546.5L1005.0 574.5L1006.0 574.5L1007.0 574.5L1008.0 574.5L1009.0 546.5L1010.0 546.5L1011.0 574.5L1012.0 546.5L1013.0 574.5L1014.0 546.5L1015.0 546.5L1016.0 546.5L1017.0 574.5L1018.0 546.5L1019.0 574.5L1020.0 546.5L1021.0 574.5L1022.0 546.5L1023.0 546.5L1024.0 574.5L1025.0 602.4L1026.0 602.4L1027.0 574.5L1028.0 574.5L1029.0 546.5L1030.0 546.5L1031.0 546.5L1032.0 518.5L1033.0 518.5L1034.0 518.5L1035.0 546.5L1036.0 574.5L1037.0 546.5L1038.0 574.5L1039.0 546.5L1040.0 546.5L1041.0 574.5L1042.0 602.4L1043.0 574.5L1044.0 574.5L1045.0 546.5L1046.0 546.5L1047.0 546.5L1048.0 574.5L1049.0 574.5L1050.0 574.5L1051.0 574.5L1052.0 574.5L1053.0 546.5L1054.0 546.5L1055.0 574.5L1056.0 574.5L1057.0 574.5L1058.0 574.5L1059.0 574.5L1060.0 546.5L1061.0 546.5L1062.0 574.5L1063.0 602.4L1064.0 602.4L1065.0 602.4L1066.0 574.5L1067.0 546.5L1068.0 546.5L1069.0 546.5L1070.0 602.4L1071.0 546.5L1072.0 574.5L1073.0 574.5L1074.0 574.5L1075.0 546.5L1076.0 546.5L1077.0 574.5L1078.0 574.5L1079.0 574.5L1080.0 574.5L1081.0 574.5L1082.0 546.5L1083.0 546.5L1084.0 546.5L1085.0 546.5L1086.0 574.5L1087.0 546.5L1088.0 602.4L1089.0 546.5L1090.0 546.5L1091.0 546.5L1092.0 574.5L1093.0 546.5L1094.0 546.5L1095.0 546.5L1096.0 574.5L1097.0 546.5L1098.0 574.5L1099.0 574.5L1100.0 574.5L1101.0 574.5L1102.0 574.5L1103.0 574.5L1104.0 574.5L1105.0 546.5L1106.0 518.5L1107.0 518.5L1108.0 546.5L1109.0 546.5L1110.0 546.5L1111.0 546.5L1112.0 546.5L1113.0 546.5L1114.0 518.5L1115.0 518.5L1116.0 574.5L1117.0 546.5L1118.0 574.5L1119.0 546.5L1120.0 546.5L1121.0 574.5L1122.0 574.5L1123.0 574.5L1124.0 546.5L1125.0 574.5L1126.0 574.5L1127.0 546.5L1128.0 546.5L1129.0 574.5L1130.0 546.5L1131.0 574.5L1132.0 546.5L1133.0 518.5L1134.0 518.5L1135.0 518.5L1136.0 546.5L1137.0 546.5L1138.0 574.5L1139.0 546.5L1140.0 546.5L1141.0 546.5L1142.0 574.5L1143.0 574.5L1144.0 546.5L1145.0 546.5L1146.0 574.5L1147.0 546.5L1148.0 574.5L1149.0 602.4L1150.0 574.5L1151.0 574.5L1152.0 574.5L1153.0 546.5L1154.0 518.5L1155.0 518.5L1156.0 574.5L1157.0 574.5L1158.0 518.5L1159.0 546.5L1160.0 546.5L1161.0 546.5L1162.0 518.5L1163.0 518.5L1164.0 518.5L1165.0 518.5L1166.0 518.5L1167.0 574.5L1168.0 546.5L1169.0 546.5L1170.0 546.5L1171.0 546.5L1172.0 546.5L1173.0 546.5L1174.0 546.5L1175.0 518.5L1176.0 574.5L1177.0 574.5L1178.0 574.5L1179.0 546.5L1180.0 574.5L1181.0 574.5L1182.0 574.5L1183.0 574.5L1184.0 546.5L1185.0 546.5L1186.0 546.5L1187.0 574.5L1188.0 546.5L1189.0 574.5L1190.0 546.5L1191.0 518.5L1192.0 546.5L1193.0 546.5L1194.0 546.5L1195.0 546.5L1196.0 574.5L1197.0 546.5L1198.0 518.5L1199.0 546.5L1200.0 546.5L1201.0 518.5L1202.0 518.5L1203.0 546.5L1204.0 546.5L1205.0 546.5L1206.0 574.5L1207.0 574.5L1208.0 546.5L1209.0 518.5L1210.0 546.5L1211.0 518.5L1212.0 518.5L1213.0 518.5L1214.0 546.5L1215.0 546.5L1216.0 546.5L1217.0 546.5L1218.0 546.5L1219.0 546.5L1220.0 574.5L1221.0 574.5L1222.0 546.5L1223.0 546.5L1224.0 518.5L1225.0 518.5L1226.0 546.5L1227.0 546.5L1228.0 574.5L1229.0 546.5L1230.0 546.5L1231.0 574.5L1232.0 546.5L1233.0 518.5L1234.0 546.5L1235.0 574.5L1236.0 546.5L1237.0 546.5L1238.0 518.5L1239.0 518.5L1240.0 546.5L1241.0 574.5L1242.0 574.5L1243.0 546.5L1244.0 574.5L1245.0 574.5L1246.0 574.5L1247.0 546.5L1248.0 574.5L1249.0 574.5L1250.0 574.5L1251.0 574.5L1252.0 574.5L1253.0 574.5L1254.0 546.5L1255.0 574.5L1256.0 546.5L1257.0 546.5L1258.0 546.5L1259.0 518.5L1260.0 546.5L1261.0 518.5L1262.0 574.5L1263.0 574.5L1264.0 546.5L1265.0 518.5L1266.0 518.5L1267.0 518.5L1268.0 518.5L1269.0 518.5L1270.0 546.5L1271.0 546.5L1272.0 546.5L1273.0 574.5L1274.0 518.5L1275.0 546.5L1276.0 546.5L1277.0 574.5L1278.0 574.5L1279.0 546.5L1280.0 546.5L1281.0 546.5L1282.0 574.5L1283.0 574.5L1284.0 546.5L1285.0 546.5L1286.0 546.5L1287.0 574.5L1288.0 546.5L1289.0 518.5L1290.0 518.5L1291.0 518.5L1292.0 574.5L1293.0 546.5L1294.0 574.5L1295.0 546.5L1296.0 574.5L1297.0 546.5L1298.0 518.5L1299.0 546.5L1300.0 574.5L1301.0 546.5L1302.0 546.5L1303.0 574.5L1304.0 574.5L1305.0 574.5L1306.0 574.5L1307.0 574.5L1308.0 574.5L1309.0 574.5L1310.0 574.5L1311.0 574.5L1312.0 574.5L1313.0 574.5L1314.0 574.5L1315.0 574.5L1316.0 574.5L1317.0 574.5L1318.0 574.5L1319.0 574.5L1320.0 546.5L1321.0 546.5L1322.0 574.5L1323.0 574.5L1324.0 574.5L1325.0 546.5L1326.0 546.5L1327.0 574.5L1328.0 546.5L1329.0 574.5L1330.0 546.5L1331.0 574.5L1332.0 546.5L1333.0 546.5L1334.0 546.5L1335.0 574.5L1336.0 574.5L1337.0 546.5L1338.0 574.5L1339.0 574.5L1340.0 574.5L1341.0 574.5L1342.0 574.5L1343.0 574.5L1344.0 574.5L1345.0 574.5L1346.0 574.5L1347.0 574.5L1348.0 574.5L1349.0 574.5L1350.0 574.5L1351.0 574.5L1352.0 574.5L1353.0 574.5L1354.0 574.5L1355.0 574.5L1356.0 574.5L1357.0 602.4L1358.0 574.5L1359.0 546.5L1360.0 546.5L1361.0 546.5L1362.0 574.5L1363.0 546.5L1364.0 574.5L1365.0 602.4L1366.0 574.5L1367.0 602.4L1368.0 630.4L1369.0 602.4L1370.0 602.4L1371.0 574.5L1372.0 574.5L1373.0 574.5L1374.0 574.5L1375.0 602.4L1376.0 574.5L1377.0 574.5L1378.0 574.5L1379.0 574.5L1380.0 630.4L1381.0 630.4L1382.0 630.4L1383.0 630.4L1384.0 630.4L1385.0 630.4L1386.0 630.4L1387.0 630.4L1388.0 630.4L1389.0 630.4L1390.0 602.4L1391.0 574.5L1392.0 602.4L1393.0 602.4L1394.0 630.4L1395.0 630.4L1396.0 630.4L1397.0 546.5L1398.0 546.5L1399.0 574.5L1400.0 602.4L1401.0 602.4L1402.0 574.5L1403.0 574.5L1404.0 602.4L1405.0 602.4L1406.0 574.5L1407.0 574.5L1408.0 602.4L1409.0 574.5L1410.0 574.5L1411.0 574.5L1412.0 574.5L1413.0 602.4L1414.0 574.5L1415.0 602.4L1416.0 574.5L1417.0 602.4L1418.0 574.5L1419.0 574.5L1420.0 574.5L1421.0 630.4L1422.0 574.5L1423.0 574.5L1424.0 602.4L1425.0 574.5L1426.0 574.5L1427.0 602.4L1428.0 546.5L1429.0 574.5L1430.0 602.4L1431.0 602.4L1432.0 602.4L1433.0 630.4L1434.0 602.4L1435.0 602.4L1436.0 602.4L1437.0 574.5L1438.0 574.5L1439.0 630.4L1440.0 630.4L1441.0 574.5L1442.0 602.4L1443.0 630.4L1444.0 602.4L1445.0 574.5L1446.0 602.4L1447.0 546.5L1448.0 602.4L1449.0 602.4L1450.0 602.4L1451.0 574.5L1452.0 602.4L1453.0 574.5L1454.0 602.4L1455.0 630.4L1456.0 630.4L1457.0 630.4L1458.0 546.5L1459.0 546.5L1460.0 602.4L1461.0 602.4L1462.0 630.4L1463.0 546.5L1464.0 546.5L1465.0 630.4L1466.0 574.5L1467.0 602.4L1468.0 630.4L1469.0 602.4L1470.0 574.5L1471.0 602.4L1472.0 574.5L1473.0 602.4L1474.0 602.4L1475.0 602.4L1476.0 630.4L1477.0 546.5L1478.0 574.5L1479.0 574.5L1480.0 630.4L1481.0 574.5L1482.0 574.5L1483.0 574.5L1484.0 574.5L1485.0 574.5L1486.0 602.4L1487.0 574.5L1488.0 602.4L1489.0 602.4L1490.0 574.5L1491.0 574.5L1492.0 574.5L1493.0 574.5L1494.0 602.4L1495.0 602.4L1496.0 602.4L1497.0 574.5L1498.0 574.5L1499.0 602.4L1500.0 602.4L1501.0 574.5L1502.0 574.5L1503.0 602.4L1504.0 602.4L1505.0 574.5L1506.0 602.4L1507.0 574.5L1508.0 602.4L1509.0 574.5L1510.0 574.5L1511.0 602.4L1512.0 602.4L1513.0 574.5L1514.0 574.5L1515.0 602.4L1516.0 574.5L1517.0 574.5L1518.0 602.4L1519.0 574.5L1520.0 574.5L1521.0 574.5L1522.0 602.4L1523.0 602.4L1524.0 602.4L1525.0 602.4L1526.0 602.4L1527.0 602.4L1528.0 574.5L1529.0 574.5L1530.0 602.4L1531.0 574.5L1532.0 602.4L1533.0 602.4L1534.0 602.4L1535.0 574.5L1536.0 546.5L1537.0 546.5L1538.0 602.4L1539.0 546.5L1540.0 602.4L1541.0 602.4L1542.0 574.5L1543.0 602.4L1544.0 602.4L1545.0 602.4L1546.0 574.5L1547.0 602.4L1548.0 630.4L1549.0 574.5L1550.0 602.4L1551.0 574.5L1552.0 602.4L1553.0 574.5L1554.0 602.4L1555.0 602.4L1556.0 574.5L1557.0 546.5L1558.0 546.5L1559.0 574.5L1560.0 630.4L1561.0 630.4L1562.0 630.4L1563.0 630.4L1564.0 630.4L1565.0 574.5L1566.0 574.5L1567.0 574.5L1568.0 602.4L1569.0 574.5L1570.0 630.4L1571.0 602.4L1572.0 574.5L1573.0 602.4L1574.0 602.4L1575.0 574.5L1576.0 630.4L1577.0 630.4L1578.0 630.4L1579.0 602.4L1580.0 574.5L1581.0 602.4L1582.0 574.5L1583.0 574.5L1584.0 574.5L1585.0 546.5L1586.0 546.5L1587.0 546.5L1588.0 574.5L1589.0 602.4L1590.0 602.4L1591.0 630.4L1592.0 602.4L1593.0 602.4L1594.0 574.5L1595.0 574.5L1596.0 602.4L1597.0 574.5L1598.0 602.4L1599.0 602.4L1600.0 602.4L1601.0 602.4L1602.0 574.5L1603.0 602.4L1604.0 602.4L1605.0 602.4L1606.0 574.5L1607.0 574.5L1608.0 546.5L1609.0 546.5L1610.0 630.4L1611.0 630.4L1612.0 602.4L1613.0 574.5L1614.0 574.5L1615.0 602.4L1616.0 574.5L1617.0 602.4L1618.0 602.4L1619.0 574.5L1620.0 602.4L1621.0 602.4L1622.0 574.5L1623.0 546.5L1624.0 546.5L1625.0 546.5L1626.0 546.5L1627.0 546.5L1628.0 574.5L1629.0 574.5L1630.0 602.4L1631.0 574.5L1632.0 574.5L1633.0 602.4L1634.0 574.5L1635.0 574.5L1636.0 574.5L1637.0 602.4L1638.0 574.5L1639.0 546.5L1640.0 574.5L1641.0 574.5L1642.0 574.5L1643.0 546.5L1644.0 574.5L1645.0 574.5L1646.0 602.4L1647.0 574.5L1648.0 602.4L1649.0 630.4L1650.0 546.5L1651.0 546.5L1652.0 546.5L1653.0 630.4L1654.0 602.4L1655.0 602.4L1656.0 602.4L1657.0 602.4L1658.0 546.5L1659.0 574.5L1660.0 574.5L1661.0 574.5L1662.0 602.4L1663.0 546.5L1664.0 546.5L1665.0 574.5L1666.0 602.4L1667.0 602.4L1668.0 630.4L1669.0 602.4L1670.0 602.4L1671.0 602.4L1672.0 574.5L1673.0 574.5L1674.0 602.4L1675.0 602.4L1676.0 602.4L1677.0 574.5L1678.0 602.4L1679.0 602.4L1680.0 602.4L1681.0 574.5L1682.0 574.5L1683.0 602.4L1684.0 602.4L1685.0 602.4L1686.0 602.4L1687.0 602.4L1688.0 574.5L1689.0 574.5L1690.0 602.4L1691.0 574.5L1692.0 574.5L1693.0 574.5L1694.0 602.4L1695.0 574.5L1696.0 574.5L1697.0 602.4L1698.0 602.4L1699.0 602.4L1700.0 602.4L1701.0 574.5L1702.0 574.5L1703.0 574.5L1704.0 574.5L1705.0 574.5L1706.0 602.4L1707.0 602.4L1708.0 574.5L1709.0 602.4L1710.0 574.5L1711.0 574.5L1712.0 602.4L1713.0 602.4L1714.0 630.4L1715.0 574.5L1716.0 574.5L1717.0 602.4L1718.0 602.4L1719.0 574.5L1720.0 574.5L1721.0 546.5L1722.0 546.5L1723.0 602.4L1724.0 574.5L1725.0 630.4L1726.0 602.4L1727.0 602.4L1728.0 574.5L1729.0 574.5L1730.0 574.5L1731.0 574.5L1732.0 546.5L1733.0 574.5L1734.0 602.4L1735.0 602.4L1736.0 602.4L1737.0 574.5L1738.0 574.5L1739.0 574.5L1740.0 630.4L1741.0 630.4L1742.0 574.5L1743.0 602.4L1744.0 602.4L1745.0 630.4L1746.0 602.4L1747.0 574.5L1748.0 574.5L1749.0 574.5L1750.0 574.5L1751.0 546.5L1752.0 546.5L1753.0 574.5L1754.0 602.4L1755.0 574.5L1756.0 574.5L1757.0 546.5L1758.0 574.5L1759.0 574.5" stroke="#ff0000"/>
<path d="M256.0 1021.6L256.8 1049.6L257.5 1077.5L258.5 1021.6L259.2 1049.6L260.0 1077.5L260.8 1049.6L261.5 1021.6L262.2 1049.6L263.0 1077.5L263.8 1077.5L264.5 1049.6L265.2 1049.6L266.0 1077.5L267.1 1021.6L268.3 965.8L269.2 1021.6L270.2 1077.5L271.1 1049.6L272.1 993.7L273.0 937.8L274.0 909.8L275.0 909.8L276.0 965.8L277.0 1049.6L278.0 993.7L279.0 937.8L280.0 909.8L281.0 881.9L282.0 909.8L283.0 937.8L284.0 993.7L285.0 1021.6L286.0 1049.6L287.0 1049.6L288.0 1049.6L289.1 937.8L290.3 881.9L291.4 798.0L292.6 826.0L293.8 881.9L294.4 826.0L295.4 937.8L296.4 993.7L297.5 909.8L298.7 798.0L299.8 742.1L300.7 798.0L301.6 854.0L302.6 909.8L303.5 993.7L304.5 909.8L305.6 881.9L306.6 826.0L307.6 854.0L308.5 937.8L309.5 881.9L310.5 826.0L311.4 770.1L312.4 714.2L313.4 658.3L314.3 686.2L315.2 770.1L316.0 798.0L316.6 714.2L317.6 798.0L318.5 909.8L319.5 854.0L320.5 770.1L321.5 742.1L322.5 630.4L323.5 602.4L324.5 490.6L325.5 434.7L326.5 378.8L327.5 462.6L328.6 546.5L329.6 630.4L330.6 686.2L331.7 798.0L332.7 881.9L333.8 826.0L334.9 742.1L336.0 686.2L336.9 742.1L337.8 742.1L338.6 798.0L339.5 826.0L340.8 630.4L342.0 434.7L342.9 462.6L343.8 518.5L344.8 574.5L345.7 630.4L346.5 546.5L347.5 658.3L348.6 770.1L349.7 714.2L350.9 602.4L352.0 518.5L352.9 574.5L353.8 574.5L354.6 602.4L355.5 630.4L356.2 574.5L357.6 714.2L358.6 658.3L359.5 602.4L360.5 546.5L361.4 462.6L362.4 406.8L363.3 350.9L364.2 378.8L365.1 406.8L366.0 462.6L366.9 490.6L367.8 518.5L369.2 434.7L370.2 490.6L371.1 546.5L372.1 630.4L373.1 686.2L374.0 714.2L375.0 798.0L376.1 742.1L377.2 686.2L378.2 658.3L379.3 602.4L380.2 686.2L381.4 574.5L382.6 434.7L383.7 462.6L384.8 518.5L386.0 574.5L387.0 518.5L388.0 574.5L388.9 630.4L389.8 686.2L390.8 770.1L391.7 826.0L392.6 742.1L393.6 658.3L394.5 602.4L395.0 630.4L396.0 462.6L396.9 490.6L397.7 546.5L398.3 434.7L399.6 546.5L400.8 658.3L401.9 574.5L402.9 546.5L404.0 490.6L404.9 518.5L405.8 546.5L406.7 546.5L407.6 602.4L408.6 574.5L409.6 546.5L410.6 518.5L411.6 490.6L412.7 490.6L413.7 462.6L414.7 434.7L415.7 406.8L416.7 378.8L417.6 434.7L418.6 434.7L419.5 462.6L420.4 378.8L421.5 462.6L422.5 518.5L423.6 574.5L424.6 602.4L425.6 574.5L426.6 490.6L427.5 462.6L428.5 406.8L429.4 462.6L430.4 490.6L431.3 518.5L432.3 602.4L433.0 518.5L433.9 630.4L434.8 714.2L435.9 686.2L437.0 630.4L437.7 686.2L438.8 602.4L439.9 546.5L441.0 490.6L442.0 518.5L443.1 546.5L444.1 574.5L445.0 518.5L446.1 574.5L447.3 658.3L448.4 714.2L449.3 658.3L450.3 602.4L451.2 602.4L452.1 546.5L453.1 462.6L454.0 434.7L455.0 434.7L456.0 490.6L457.0 518.5L458.0 518.5L459.0 518.5L460.0 546.5L461.0 574.5L462.0 574.5L463.0 518.5L464.0 518.5L465.0 518.5L466.0 490.6L467.1 462.6L468.1 462.6L469.1 434.7L470.2 406.8L471.2 406.8L472.3 378.8L473.2 434.7L474.1 462.6L475.0 518.5L475.8 546.5L476.5 462.6L478.0 658.3L479.0 630.4L480.0 574.5L481.0 546.5L481.9 602.4L482.9 658.3L483.9 658.3L484.8 714.2L485.8 686.2L486.8 630.4L487.8 574.5L488.8 546.5L489.7 490.6L490.7 462.6L491.7 406.8L492.7 350.9L493.7 378.8L494.7 434.7L495.7 462.6L496.7 518.5L497.7 546.5L498.7 574.5L499.7 602.4L500.7 658.3L501.8 630.4L502.9 602.4L504.0 546.5L504.9 546.5L505.8 574.5L506.8 602.4L507.7 658.3L508.6 658.3L509.6 630.4L510.5 574.5L511.5 546.5L512.5 490.6L513.5 434.7L514.4 434.7L515.4 378.8L516.4 406.8L517.4 434.7L518.4 490.6L519.4 490.6L520.5 546.5L521.5 546.5L522.5 574.5L523.5 602.4L524.5 658.3L525.5 630.4L526.5 630.4L527.5 574.5L528.5 546.5L529.5 546.5L530.8 602.4L531.8 546.5L532.9 490.6L533.9 434.7L535.0 406.8L536.0 462.6L537.0 490.6L538.0 462.6L539.0 490.6L540.0 546.5L541.0 574.5L542.0 602.4L543.0 602.4L544.0 658.3L545.0 686.2L545.9 630.4L546.9 602.4L547.8 546.5L548.7 518.5L549.7 462.6L550.6 406.8L551.6 462.6L552.7 518.5L553.7 546.5L554.8 630.4L555.8 686.2L556.8 658.3L557.8 630.4L558.9 602.4L559.9 602.4L560.9 574.5L561.9 546.5L562.9 518.5L563.9 490.6L565.0 434.7L566.0 434.7L567.0 406.8L568.0 406.8L568.9 462.6L569.9 462.6L570.9 462.6L571.9 490.6L572.8 518.5L573.8 518.5L574.8 546.5L575.6 518.5L576.3 490.6L577.2 518.5L578.2 574.5L579.1 602.4L580.0 630.4L581.0 630.4L581.9 602.4L582.9 546.5L583.9 518.5L584.7 602.4L585.9 546.5L587.0 434.7L588.1 462.6L589.1 518.5L590.2 546.5L591.2 602.4L592.3 630.4L593.3 686.2L594.4 714.2L595.4 658.3L596.5 630.4L597.5 546.5L598.5 518.5L599.5 434.7L600.6 378.8L601.6 350.9L602.6 406.8L603.5 462.6L604.5 462.6L605.4 518.5L606.4 574.5L607.3 602.4L608.3 630.4L609.2 686.2L610.2 742.1L611.2 686.2L612.1 630.4L613.0 574.5L614.0 546.5L614.9 546.5L615.8 574.5L616.6 574.5L617.5 574.5L618.7 518.5L619.8 462.6L620.4 546.5L621.2 462.6L622.0 350.9L623.1 378.8L624.1 406.8L625.2 434.7L626.2 462.6L627.3 490.6L628.3 490.6L629.2 434.7L630.1 434.7L631.1 434.7L632.0 490.6L633.0 546.5L633.9 574.5L634.9 602.4L635.8 658.3L636.8 686.2L637.9 630.4L639.0 630.4L640.1 574.5L641.2 546.5L642.1 602.4L643.0 546.5L643.8 490.6L644.7 434.7L645.7 434.7L646.8 462.6L647.8 490.6L648.8 462.6L649.9 490.6L650.9 518.5L651.9 518.5L652.9 546.5L654.0 574.5L655.0 574.5L656.0 574.5L657.0 518.5L658.0 518.5L659.0 518.5L660.0 490.6L661.0 490.6L661.9 490.6L662.9 518.5L663.8 518.5L664.8 546.5L665.7 546.5L666.6 546.5L667.6 546.5L668.5 574.5L669.6 546.5L670.7 518.5L671.8 518.5L672.8 518.5L673.9 462.6L675.0 462.6L676.0 462.6L676.9 462.6L677.9 490.6L678.9 518.5L679.8 518.5L680.8 546.5L681.7 546.5L682.7 546.5L683.7 574.5L684.6 574.5L685.6 602.4L686.7 574.5L687.7 574.5L688.8 574.5L689.9 546.5L690.9 518.5L692.0 490.6L693.0 490.6L694.0 490.6L694.9 518.5L695.9 546.5L696.9 546.5L697.9 574.5L698.8 574.5L699.8 574.5L700.8 574.5L701.8 602.4L702.7 630.4L703.7 630.4L704.8 630.4L705.9 658.3L706.9 658.3L708.0 686.2L708.9 714.2L709.9 742.1L710.8 770.1L711.7 826.0L712.8 798.0L713.9 770.1L715.0 714.2L716.0 686.2L717.0 630.4L718.0 574.5L719.0 546.5L720.0 490.6L721.0 462.6L722.0 406.8L723.0 434.7L724.0 434.7L725.0 406.8L726.0 434.7L727.0 434.7L728.0 462.6L729.0 462.6L730.0 462.6L731.0 434.7L732.0 462.6L733.0 434.7L734.0 434.7L735.0 434.7L736.0 434.7L737.0 434.7L738.0 462.6L739.0 434.7L740.0 462.6L741.0 462.6L742.0 462.6L743.0 434.7L744.0 434.7L745.0 490.6L746.0 462.6L747.0 490.6L748.0 490.6L749.0 462.6L750.0 490.6L751.0 490.6L752.0 462.6L753.0 490.6L754.0 490.6L755.0 462.6L756.0 434.7L757.0 462.6L758.0 490.6L759.0 462.6L760.0 434.7L761.0 518.5L762.0 434.7L763.0 490.6L764.0 490.6L765.0 406.8L766.0 462.6L767.0 490.6L768.0 518.5L769.0 434.7L770.0 406.8L771.0 434.7L772.0 462.6L773.0 462.6L774.0 462.6L775.0 462.6L776.0 462.6L777.0 462.6L778.0 490.6L779.0 462.6L780.0 490.6L781.0 490.6L782.0 490.6L783.0 490.6L784.0 434.7L785.0 518.5L786.0 462.6L787.0 462.6L788.0 490.6L789.0 462.6L790.0 490.6L791.0 518.5L792.0 518.5L793.0 546.5L794.0 518.5L795.0 518.5L796.0 574.5L797.0 546.5L798.0 518.5L799.0 518.5L800.0 518.5L801.0 518.5L802.0 518.5L803.0 518.5L804.0 574.5L805.0 518.5L806.0 574.5L807.0 546.5L808.0 518.5L809.0 574.5L810.0 546.5L811.0 546.5L812.0 574.5L813.0 574.5L814.0 546.5L815.0 546.5L816.0 574.5L817.0 546.5L818.0 546.5L819.0 518.5L820.0 546.5L821.0 490.6L822.0 546.5L823.0 574.5L824.0 546.5L825.0 546.5L826.0 546.5L827.0 546.5L828.0 574.5L829.0 546.5L830.0 546.5L831.0 518.5L832.0 490.6L833.0 490.6L834.0 574.5L835.0 546.5L836.0 518.5L837.0 546.5L838.0 574.5L839.0 574.5L840.0 518.5L841.0 546.5L842.0 574.5L843.0 546.5L844.0 574.5L845.0 518.5L846.0 574.5L847.0 546.5L848.0 546.5L849.0 574.5L850.0 546.5L851.0 490.6L852.0 546.5L853.0 518.5L854.0 546.5L855.0 574.5L856.0 574.5L857.0 546.5L858.0 518.5L859.0 546.5L860.0 518.5L861.0 490.6L862.0 518.5L863.0 518.5L864.0 518.5L865.0 546.5L866.0 546.5L867.0 546.5L868.0 546.5L869.0 518.5L870.0 546.5L871.0 574.5L872.0 574.5L873.0 518.5L874.0 546.5L875.0 574.5L876.0 574.5L877.0 546.5L878.0 518.5L879.0 546.5L880.0 518.5L881.0 546.5L882.0 518.5L883.0 518.5L884.0 518.5L885.0 546.5L886.0 518.5L887.0 574.5L888.0 574.5L889.0 518.5L890.0 546.5L891.0 546.5L892.0 574.5L893.0 574.5L894.0 546.5L895.0 574.5L896.0 574.5L897.0 518.5L898.0 518.5L899.0 574.5L900.0 574.5L901.0 574.5L902.0 518.5L903.0 546.5L904.0 546.5L905.0 518.5L906.0 546.5L907.0 518.5L908.0 546.5L909.0 546.5L910.0 518.5L911.0 546.5L912.0 518.5L913.0 546.5L914.0 574.5L915.0 518.5L916.0 518.5L917.0 518.5L918.0 518.5L919.0 574.5L920.0 518.5L921.0 546.5L922.0 546.5L923.0 574.5L924.0 574.5L925.0 546.5L926.0 546.5L927.0 574.5L928.0 546.5L929.0 518.5L930.0 490.6L931.0 490.6L932.0 490.6L933.0 490.6L934.0 490.6L935.0 490.6L936.0 546.5L937.0 546.5L938.0 546.5L939.0 574.5L940.0 546.5L941.0 546.5L942.0 546.5L943.0 546.5L944.0 518.5L945.0 518.5L946.0 574.5L947.0 574.5L948.0 518.5L949.0 546.5L950.0 546.5L951.0 546.5L952.0 546.5L953.0 518.5L954.0 546.5L955.0 546.5L956.0 546.5L957.0 518.5L958.0 546.5L959.0 518.5L960.0 518.5L961.0 546.5L962.0 518.5L963.0 546.5L964.0 518.5L965.0 518.5L966.0 518.5L967.0 546.5L968.0 574.5L969.0 546.5L970.0 518.5L971.0 546.5L972.0 574.5L973.0 546.5L974.0 574.5L975.0 518.5L976.0 546.5L977.0 518.5L978.0 546.5L979.0 574.5L980.0 546.5L981.0 546.5L982.0 574.5L983.0 546.5L984.0 574.5L985.0 546.5L986.0 518.5L987.0 518.5L988.0 518.5L989.0 518.5L990.0 518.5L991.0 574.5L992.0 574.5L993.0 546.5L994.0 546.5L995.0 546.5L996.0 574.5L997.0 574.5L998.0 518.5L999.0 546.5L1000.0 574.5L1001.0 546.5L1002.0 518.5L1003.0 546.5L1004.0 546.5L1005.0 574.5L1006.0 518.5L1007.0 574.5L1008.0 574.5L1009.0 574.5L1010.0 546.5L1011.0 518.5L1012.0 546.5L1013.0 518.5L1014.0 518.5L1015.0 546.5L1016.0 518.5L1017.0 518.5L1018.0 546.5L1019.0 518.5L1020.0 518.5L1021.0 518.5L1022.0 546.5L1023.0 518.5L1024.0 546.5L1025.0 518.5L1026.0 546.5L1027.0 518.5L1028.0 546.5L1029.0 518.5L1030.0 546.5L1031.0 518.5L1032.0 518.5L1033.0 490.6L1034.0 518.5L1035.0 518.5L1036.0 518.5L1037.0 518.5L1038.0 518.5L1039.0 546.5L1040.0 546.5L1041.0 518.5L1042.0 546.5L1043.0 518.5L1044.0 546.5L1045.0 518.5L1046.0 518.5L1047.0 490.6L1048.0 490.6L1049.0 518.5L1050.0 490.6L1051.0 490.6L1052.0 518.5L1053.0 518.5L1054.0 518.5L1055.0 546.5L1056.0 518.5L1057.0 546.5L1058.0 546.5L1059.0 518.5L1060.0 518.5L1061.0 546.5L1062.0 518.5L1063.0 546.5L1064.0 518.5L1065.0 518.5L1066.0 546.5L1067.0 546.5L1068.0 490.6L1069.0 518.5L1070.0 546.5L1071.0 490.6L1072.0 518.5L1073.0 518.5L1074.0 518.5L1075.0 490.6L1076.0 518.5L1077.0 546.5L1078.0 518.5L1079.0 546.5L1080.0 546.5L1081.0 518.5L1082.0 546.5L1083.0 518.5L1084.0 546.5L1085.0 518.5L1086.0 546.5L1087.0 518.5L1088.0 546.5L1089.0 518.5L1090.0 546.5L1091.0 546.5L1092.0 518.5L1093.0 546.5L1094.0 518.5L1095.0 518.5L1096.0 518.5L1097.0 546.5L1098.0 518.5L1099.0 546.5L1100.0 518.5L1101.0 518.5L1102.0 518.5L1103.0 546.5L1104.0 518.5L1105.0 546.5L1106.0 546.5L1107.0 574.5L1108.0 546.5L1109.0 518.5L1110.0 462.6L1111.0 462.6L1112.0 462.6L1113.0 546.5L1114.0 518.5L1115.0 518.5L1116.0 518.5L1117.0 546.5L1118.0 518.5L1119.0 546.5L1120.0 546.5L1121.0 546.5L1122.0 518.5L1123.0 546.5L1124.0 518.5L1125.0 546.5L1126.0 546.5L1127.0 518.5L1128.0 546.5L1129.0 546.5L1130.0 546.5L1131.0 518.5L1132.0 518.5L1133.0 490.6L1134.0 546.5L1135.0 518.5L1136.0 546.5L1137.0 518.5L1138.0 546.5L1139.0 518.5L1140.0 546.5L1141.0 546.5L1142.0 518.5L1143.0 546.5L1144.0 546.5L1145.0 518.5L1146.0 574.5L1147.0 546.5L1148.0 518.5L1149.0 518.5L1150.0 546.5L1151.0 546.5L1152.0 518.5L1153.0 546.5L1154.0 518.5L1155.0 546.5L1156.0 518.5L1157.0 518.5L1158.0 546.5L1159.0 546.5L1160.0 518.5L1161.0 490.6L1162.0 490.6L1163.0 518.5L1164.0 518.5L1165.0 518.5L1166.0 518.5L1167.0 546.5L1168.0 518.5L1169.0 518.5L1170.0 546.5L1171.0 490.6L1172.0 490.6L1173.0 546.5L1174.0 518.5L1175.0 546.5L1176.0 546.5L1177.0 518.5L1178.0 546.5L1179.0 518.5L1180.0 546.5L1181.0 518.5L1182.0 490.6L1183.0 546.5L1184.0 462.6L1185.0 546.5L1186.0 546.5L1187.0 546.5L1188.0 546.5L1189.0 518.5L1190.0 546.5L1191.0 546.5L1192.0 518.5L1193.0 546.5L1194.0 518.5L1195.0 546.5L1196.0 546.5L1197.0 546.5L1198.0 546.5L1199.0 574.5L1200.0 518.5L1201.0 546.5L1202.0 546.5L1203.0 574.5L1204.0 546.5L1205.0 546.5L1206.0 518.5L1207.0 546.5L1208.0 546.5L1209.0 518.5L1210.0 546.5L1211.0 518.5L1212.0 546.5L1213.0 518.5L1214.0 490.6L1215.0 518.5L1216.0 546.5L1217.0 546.5L1218.0 546.5L1219.0 518.5L1220.0 546.5L1221.0 518.5L1222.0 546.5L1223.0 518.5L1224.0 546.5L1225.0 518.5L1226.0 546.5L1227.0 518.5L1228.0 546.5L1229.0 490.6L1230.0 546.5L1231.0 462.6L1232.0 546.5L1233.0 518.5L1234.0 546.5L1235.0 518.5L1236.0 546.5L1237.0 518.5L1238.0 546.5L1239.0 518.5L1240.0 546.5L1241.0 518.5L1242.0 518.5L1243.0 574.5L1244.0 546.5L1245.0 546.5L1246.0 518.5L1247.0 574.5L1248.0 518.5L1249.0 546.5L1250.0 518.5L1251.0 518.5L1252.0 546.5L1253.0 518.5L1254.0 546.5L1255.0 546.5L1256.0 518.5L1257.0 546.5L1258.0 574.5L1259.0 546.5L1260.0 518.5L1261.0 518.5L1262.0 546.5L1263.0 546.5L1264.0 518.5L1265.0 518.5L1266.0 546.5L1267.0 546.5L1268.0 546.5L1269.0 518.5L1270.0 546.5L1271.0 546.5L1272.0 546.5L1273.0 518.5L1274.0 518.5L1275.0 518.5L1276.0 518.5L1277.0 518.5L1278.0 574.5L1279.0 546.5L1280.0 574.5L1281.0 546.5L1282.0 546.5L1283.0 574.5L1284.0 546.5L1285.0 518.5L1286.0 518.5L1287.0 518.5L1288.0 434.7L1289.0 546.5L1290.0 574.5L1291.0 546.5L1292.0 546.5L1293.0 546.5L1294.0 546.5L1295.0 490.6L1296.0 546.5L1297.0 574.5L1298.0 518.5L1299.0 546.5L1300.0 518.5L1301.0 490.6L1302.0 490.6L1303.0 490.6L1304.0 462.6L1305.0 462.6L1306.0 518.5L1307.0 546.5L1308.0 574.5L1309.0 546.5L1310.0 546.5L1311.0 574.5L1312.0 574.5L1313.0 574.5L1314.0 518.5L1315.0 574.5L1316.0 574.5L1317.0 546.5L1318.0 574.5L1319.0 518.5L1320.0 518.5L1321.0 546.5L1322.0 518.5L1323.0 546.5L1324.0 490.6L1325.0 518.5L1326.0 518.5L1327.0 518.5L1328.0 546.5L1329.0 546.5L1330.0 546.5L1331.0 546.5L1332.0 518.5L1333.0 518.5L1334.0 546.5L1335.0 518.5L1336.0 546.5L1337.0 546.5L1338.0 434.7L1339.0 434.7L1340.0 434.7L1341.0 546.5L1342.0 546.5L1343.0 490.6L1344.0 518.5L1345.0 518.5L1346.0 546.5L1347.0 574.5L1348.0 518.5L1349.0 574.5L1350.0 574.5L1351.0 546.5L1352.0 518.5L1353.0 574.5L1354.0 574.5L1355.0 546.5L1356.0 574.5L1357.0 546.5L1358.0 574.5L1359.0 546.5L1360.0 546.5L1361.0 518.5L1362.0 518.5L1363.0 518.5L1364.0 518.5L1365.0 462.6L1366.0 546.5L1367.0 518.5L1368.0 434.7L1369.0 518.5L1370.0 518.5L1371.0 546.5L1372.0 518.5L1373.0 518.5L1374.0 546.5L1375.0 546.5L1376.0 518.5L1377.0 546.5L1378.0 518.5L1379.0 518.5L1380.0 490.6L1381.0 490.6L1382.0 518.5L1383.0 518.5L1384.0 518.5L1385.0 518.5L1386.0 546.5L1387.0 518.5L1388.0 434.7L1389.0 546.5L1390.0 518.5L1391.0 546.5L1392.0 518.5L1393.0 546.5L1394.0 434.7L1395.0 490.6L1396.0 518.5L1397.0 546.5L1398.0 574.5L1399.0 546.5L1400.0 518.5L1401.0 546.5L1402.0 518.5L1403.0 490.6L1404.0 574.5L1405.0 546.5L1406.0 518.5L1407.0 518.5L1408.0 518.5L1409.0 462.6L1410.0 490.6L1411.0 490.6L1412.0 490.6L1413.0 490.6L1414.0 434.7L1415.0 518.5L1416.0 574.5L1417.0 574.5L1418.0 434.7L1419.0 518.5L1420.0 490.6L1421.0 546.5L1422.0 434.7L1423.0 490.6L1424.0 462.6L1425.0 546.5L1426.0 434.7L1427.0 518.5L1428.0 546.5L1429.0 546.5L1430.0 434.7L1431.0 546.5L1432.0 546.5L1433.0 574.5L1434.0 574.5L1435.0 518.5L1436.0 546.5L1437.0 518.5L1438.0 546.5L1439.0 574.5L1440.0 574.5L1441.0 546.5L1442.0 546.5L1443.0 518.5L1444.0 490.6L1445.0 574.5L1446.0 574.5L1447.0 574.5L1448.0 574.5L1449.0 546.5L1450.0 462.6L1451.0 462.6L1452.0 462.6L1453.0 574.5L1454.0 574.5L1455.0 518.5L1456.0 546.5L1457.0 574.5L1458.0 490.6L1459.0 546.5L1460.0 518.5L1461.0 546.5L1462.0 546.5L1463.0 574.5L1464.0 546.5L1465.0 490.6L1466.0 518.5L1467.0 546.5L1468.0 434.7L1469.0 546.5L1470.0 546.5L1471.0 434.7L1472.0 490.6L1473.0 406.8L1474.0 546.5L1475.0 574.5L1476.0 434.7L1477.0 490.6L1478.0 546.5L1479.0 518.5L1480.0 434.7L1481.0 546.5L1482.0 518.5L1483.0 574.5L1484.0 518.5L1485.0 490.6L1486.0 434.7L1487.0 518.5L1488.0 490.6L1489.0 574.5L1490.0 490.6L1491.0 462.6L1492.0 434.7L1493.0 546.5L1494.0 574.5L1495.0 546.5L1496.0 574.5L1497.0 546.5L1498.0 518.5L1499.0 518.5L1500.0 574.5L1501.0 546.5L1502.0 518.5L1503.0 462.6L1504.0 462.6L1505.0 546.5L1506.0 546.5L1507.0 462.6L1508.0 490.6L1509.0 462.6L1510.0 518.5L1511.0 574.5L1512.0 518.5L1513.0 546.5L1514.0 518.5L1515.0 546.5L1516.0 574.5L1517.0 574.5L1518.0 546.5L1519.0 546.5L1520.0 462.6L1521.0 518.5L1522.0 574.5L1523.0 546.5L1524.0 574.5L1525.0 574.5L1526.0 546.5L1527.0 546.5L1528.0 574.5L1529.0 546.5L1530.0 518.5L1531.0 518.5L1532.0 518.5L1533.0 546.5L1534.0 574.5L1535.0 518.5L1536.0 518.5L1537.0 574.5L1538.0 546.5L1539.0 574.5L1540.0 518.5L1541.0 602.4L1542.0 546.5L1543.0 574.5L1544.0 518.5L1545.0 546.5L1546.0 518.5L1547.0 518.5L1548.0 518.5L1549.0 546.5L1550.0 574.5L1551.0 574.5L1552.0 546.5L1553.0 518.5L1554.0 518.5L1555.0 518.5L1556.0 574.5L1557.0 518.5L1558.0 518.5L1559.0 518.5L1560.0 546.5L1561.0 574.5L1562.0 602.4L1563.0 574.5L1564.0 518.5L1565.0 546.5L1566.0 546.5L1567.0 518.5L1568.0 518.5L1569.0 546.5L1570.0 518.5L1571.0 518.5L1572.0 546.5L1573.0 574.5L1574.0 546.5L1575.0 518.5L1576.0 574.5L1577.0 574.5L1578.0 546.5L1579.0 574.5L1580.0 574.5L1581.0 546.5L1582.0 518.5L1583.0 574.5L1584.0 574.5L1585.0 574.5L1586.0 546.5L1587.0 518.5L1588.0 546.5L1589.0 518.5L1590.0 546.5L1591.0 518.5L1592.0 518.5L1593.0 574.5L1594.0 574.5L1595.0 546.5L1596.0 518.5L1597.0 518.5L1598.0 518.5L1599.0 602.4L1600.0 602.4L1601.0 518.5L1602.0 518.5L1603.0 546.5L1604.0 546.5L1605.0 574.5L1606.0 574.5L1607.0 574.5L1608.0 602.4L1609.0 574.5L1610.0 574.5L1611.0 602.4L1612.0 546.5L1613.0 574.5L1614.0 546.5L1615.0 518.5L1616.0 518.5L1617.0 546.5L1618.0 518.5L1619.0 518.5L1620.0 546.5L1621.0 546.5L1622.0 518.5L1623.0 574.5L1624.0 518.5L1625.0 546.5L1626.0 546.5L1627.0 518.5L1628.0 546.5L1629.0 518.5L1630.0 518.5L1631.0 574.5L1632.0 574.5L1633.0 518.5L1634.0 518.5L1635.0 574.5L1636.0 546.5L1637.0 518.5L1638.0 546.5L1639.0 574.5L1640.0 518.5L1641.0 518.5L1642.0 574.5L1643.0 546.5L1644.0 602.4L1645.0 602.4L1646.0 574.5L1647.0 574.5L1648.0 574.5L1649.0 574.5L1650.0 518.5L1651.0 518.5L1652.0 546.5L1653.0 574.5L1654.0 574.5L1655.0 518.5L1656.0 546.5L1657.0 546.5L1658.0 518.5L1659.0 518.5L1660.0 602.4L1661.0 574.5L1662.0 546.5L1663.0 546.5L1664.0 518.5L1665.0 518.5L1666.0 518.5L1667.0 574.5L1668.0 602.4L1669.0 602.4L1670.0 574.5L1671.0 546.5L1672.0 546.5L1673.0 546.5L1674.0 518.5L1675.0 546.5L1676.0 574.5L1677.0 574.5L1678.0 546.5L1679.0 574.5L1680.0 574.5L1681.0 546.5L1682.0 574.5L1683.0 574.5L1684.0 574.5L1685.0 518.5L1686.0 518.5L1687.0 546.5L1688.0 518.5L1689.0 518.5L1690.0 546.5L1691.0 546.5L1692.0 546.5L1693.0 574.5L1694.0 546.5L1695.0 518.5L1696.0 546.5L1697.0 518.5L1698.0 518.5L1699.0 546.5L1700.0 518.5L1701.0 546.5L1702.0 546.5L1703.0 546.5L1704.0 546.5L1705.0 518.5L1706.0 518.5L1707.0 518.5L1708.0 518.5L1709.0 546.5L1710.0 518.5L1711.0 546.5L1712.0 518.5L1713.0 574.5L1714.0 518.5L1715.0 546.5L1716.0 574.5L1717.0 602.4L1718.0 602.4L1719.0 518.5L1720.0 546.5L1721.0 574.5L1722.0 546.5L1723.0 574.5L1724.0 518.5L1725.0 518.5L1726.0 518.5L1727.0 518.5L1728.0 518.5L1729.0 518.5L1730.0 574.5L1731.0 574.5L1732.0 574.5L1733.0 546.5L1734.0 518.5L1735.0 546.5L1736.0 546.5L1737.0 546.5L1738.0 574.5L1739.0 546.5L1740.0 546.5L1741.0 518.5L1742.0 546.5L1743.0 546.5L1744.0 574.5L1745.0 546.5L1746.0 518.5L1747.0 574.5L1748.0 574.5L1749.0 546.5L1750.0 518.5L1751.0 546.5L1752.0 574.5L1753.0 518.5L1754.0 518.5L1755.0 546.5L1756.0 518.5L1757.0 602.4L1758.0 574.5L1759.0 574.5" stroke="#0000ff"/>
<path d="M257.0 518.5L258.5 546.5L260.0 574.5L261.0 602.4L262.5 658.3L263.8 658.3L265.0 602.4L266.5 602.4L268.0 602.4L269.5 574.5L271.0 602.4L273.0 602.4L274.5 602.4L276.0 574.5L277.5 574.5L279.0 546.5L280.5 574.5L282.0 602.4L283.5 546.5L285.0 518.5L286.5 546.5L287.5 518.5L288.5 518.5L289.5 546.5L290.5 490.6L291.5 490.6L292.5 518.5L293.5 518.5L294.5 518.5L295.5 546.5L296.5 546.5L297.5 490.6L298.5 490.6L299.5 518.5L300.5 546.5L301.5 546.5L302.5 518.5L303.5 518.5L304.5 490.6L305.5 490.6L306.5 518.5L307.5 518.5L308.5 518.5L309.5 490.6L310.5 546.5L311.5 490.6L312.5 518.5L313.5 518.5L314.5 518.5L315.0 490.6L316.0 462.6L317.0 490.6L318.0 490.6L319.0 462.6L320.0 490.6L321.0 434.7L322.0 462.6L323.0 462.6L324.0 434.7L325.0 462.6L326.0 462.6L327.0 462.6L328.0 490.6L329.0 434.7L330.0 490.6L331.0 462.6L332.0 462.6L333.0 434.7L334.0 462.6L335.0 462.6L336.0 462.6L337.0 490.6L338.0 462.6L339.0 434.7L340.0 434.7L341.0 462.6L342.0 434.7L343.0 462.6L344.0 490.6L345.0 490.6L346.0 490.6L347.0 490.6L348.0 574.5L349.0 546.5L350.0 546.5L351.0 546.5L352.0 602.4L353.0 518.5L354.0 518.5L355.0 518.5L356.0 574.5L357.0 574.5L358.0 518.5L359.0 518.5L360.0 518.5L361.0 518.5L362.0 518.5L363.0 546.5L364.0 546.5L365.0 518.5L366.0 518.5L367.0 518.5L368.0 546.5L369.0 546.5L370.0 546.5L371.0 518.5L372.0 518.5L373.0 546.5L374.0 546.5L375.0 490.6L376.0 490.6L377.0 574.5L378.0 546.5L379.0 602.4L380.0 490.6L381.0 490.6L382.0 490.6L383.0 490.6L384.0 490.6L385.0 546.5L386.0 546.5L387.0 546.5L388.0 546.5L389.0 574.5L390.0 574.5L391.0 574.5L392.0 546.5L393.0 518.5L394.0 518.5L395.0 546.5L396.0 546.5L397.0 546.5L398.0 602.4L399.0 490.6L400.0 546.5L401.0 546.5L402.0 518.5L403.0 490.6L404.0 546.5L405.0 602.4L406.0 602.4L407.0 602.4L408.0 462.6L409.0 574.5L410.0 546.5L411.0 518.5L412.0 518.5L413.0 546.5L414.0 546.5L415.0 518.5L416.0 518.5L417.0 490.6L418.0 518.5L419.0 546.5L420.0 546.5L421.0 490.6L422.0 462.6L423.0 602.4L424.0 602.4L425.0 518.5L426.0 574.5L427.0 574.5L428.0 574.5L429.0 546.5L430.0 574.5L431.0 546.5L432.0 462.6L433.0 518.5L434.0 518.5L435.0 518.5L436.0 518.5L437.0 518.5L438.0 546.5L439.0 518.5L440.0 490.6L441.0 490.6L442.0 490.6L443.0 490.6L444.0 490.6L445.0 462.6L446.0 490.6L447.0 490.6L448.0 602.4L449.0 574.5L450.0 574.5L451.0 490.6L452.0 518.5L453.0 490.6L454.0 518.5L455.0 546.5L456.0 546.5L457.0 546.5L458.0 546.5L459.0 546.5L460.0 518.5L461.0 518.5L462.0 518.5L463.0 518.5L464.0 518.5L465.0 518.5L466.0 546.5L467.0 574.5L468.0 490.6L469.0 518.5L470.0 490.6L471.0 546.5L472.0 546.5L473.0 518.5L474.0 518.5L475.0 518.5L476.0 518.5L477.0 518.5L478.0 518.5L479.0 574.5L480.0 546.5L481.0 574.5L482.0 574.5L483.0 518.5L484.0 518.5L485.0 518.5L486.0 602.4L487.0 546.5L488.0 546.5L489.0 518.5L490.0 546.5L491.0 490.6L492.0 462.6L493.0 462.6L494.0 490.6L495.0 546.5L496.0 546.5L497.0 546.5L498.0 546.5L499.0 546.5L500.0 546.5L501.0 546.5L502.0 546.5L503.0 518.5L504.0 490.6L505.0 518.5L506.0 546.5L507.0 490.6L508.0 518.5L509.0 462.6L510.0 490.6L511.0 490.6L512.0 518.5L513.0 518.5L514.0 518.5L515.0 546.5L516.0 546.5L517.0 462.6L518.0 462.6L519.0 490.6L520.0 490.6L521.0 490.6L522.0 546.5L523.0 546.5L524.0 546.5L525.0 490.6L526.0 490.6L527.0 490.6L528.0 490.6L529.0 462.6L530.0 546.5L531.0 518.5L532.0 518.5L533.0 490.6L534.0 490.6L535.0 490.6L536.0 490.6L537.0 490.6L538.0 490.6L539.0 462.6L540.0 490.6L541.0 490.6L542.0 490.6L543.0 490.6L544.0 518.5L545.0 490.6L546.0 518.5L547.0 518.5L548.0 490.6L549.0 518.5L550.0 490.6L551.0 546.5L552.0 518.5L553.0 546.5L554.0 546.5L555.0 546.5L556.0 518.5L557.0 546.5L558.0 462.6L559.0 490.6L560.0 490.6L561.0 546.5L562.0 546.5L563.0 490.6L564.0 490.6L565.0 490.6L566.0 490.6L567.0 518.5L568.0 518.5L569.0 490.6L570.0 490.6L571.0 490.6L572.0 462.6L573.0 518.5L574.0 462.6L575.0 462.6L576.0 490.6L577.0 490.6L578.0 462.6L579.0 462.6L580.0 462.6L581.0 518.5L582.0 546.5L583.0 462.6L584.0 518.5L585.0 490.6L586.0 490.6L587.0 462.6L588.0 462.6L589.0 518.5L590.0 490.6L591.0 490.6L592.0 490.6L593.0 546.5L594.0 462.6L595.0 462.6L596.0 518.5L597.0 462.6L598.0 490.6L599.0 574.5L600.0 574.5L601.0 490.6L602.0 490.6L603.0 490.6L604.0 490.6L605.0 518.5L606.0 518.5L607.0 546.5L608.0 490.6L609.0 518.5L610.0 546.5L611.0 518.5L612.0 490.6L613.0 518.5L614.0 574.5L615.0 490.6L616.0 490.6L617.0 518.5L618.0 490.6L619.0 518.5L620.0 462.6L621.0 462.6L622.0 490.6L623.0 490.6L624.0 574.5L625.0 574.5L626.0 546.5L627.0 546.5L628.0 462.6L629.0 462.6L630.0 518.5L631.0 518.5L632.0 546.5L633.0 518.5L634.0 518.5L635.0 490.6L636.0 490.6L637.0 490.6L638.0 490.6L639.0 546.5L640.0 546.5L641.0 546.5L642.0 518.5L643.0 518.5L644.0 518.5L645.0 462.6L646.0 462.6L647.0 490.6L648.0 518.5L649.0 490.6L650.0 462.6L651.0 490.6L652.0 490.6L653.0 518.5L654.0 462.6L655.0 462.6L656.0 462.6L657.0 462.6L658.0 462.6L659.0 462.6L660.0 490.6L661.0 518.5L662.0 490.6L663.0 546.5L664.0 546.5L665.0 490.6L666.0 490.6L667.0 490.6L668.0 546.5L669.0 546.5L670.0 518.5L671.0 490.6L672.0 490.6L673.0 490.6L674.0 490.6L675.0 518.5L676.0 518.5L677.0 518.5L678.0 518.5L679.0 546.5L680.0 546.5L681.0 490.6L682.0 490.6L683.0 602.4L684.0 490.6L685.0 546.5L686.0 462.6L687.0 546.5L688.0 490.6L689.0 462.6L690.0 546.5L691.0 546.5L692.0 574.5L693.0 574.5L694.0 518.5L695.0 490.6L696.0 462.6L697.0 462.6L698.0 574.5L699.0 574.5L700.0 518.5L701.0 518.5L702.0 518.5L703.0 518.5L704.0 546.5L705.0 462.6L706.0 462.6L707.0 462.6L708.0 462.6L709.0 462.6L710.0 490.6L711.0 518.5L712.0 518.5L713.0 518.5L714.0 490.6L715.0 490.6L716.0 462.6L717.0 462.6L718.0 490.6L719.0 462.6L720.0 462.6L721.0 546.5L722.0 546.5L723.0 462.6L724.0 490.6L725.0 490.6L726.0 490.6L727.0 490.6L728.0 462.6L729.0 462.6L730.0 518.5L731.0 518.5L732.0 490.6L733.0 518.5L734.0 490.6L735.0 490.6L736.0 490.6L737.0 518.5L738.0 518.5L739.0 518.5L740.0 546.5L741.0 574.5L742.0 490.6L743.0 546.5L744.0 462.6L745.0 490.6L746.0 602.4L747.0 490.6L748.0 518.5L749.0 546.5L750.0 518.5L751.0 546.5L752.0 490.6L753.0 490.6L754.0 462.6L755.0 490.6L756.0 490.6L757.0 490.6L758.0 490.6L759.0 518.5L760.0 462.6L761.0 434.7L762.0 518.5L763.0 518.5L764.0 546.5L765.0 546.5L766.0 518.5L767.0 490.6L768.0 490.6L769.0 490.6L770.0 518.5L771.0 518.5L772.0 518.5L773.0 518.5L774.0 518.5L775.0 546.5L776.0 546.5L777.0 546.5L778.0 462.6L779.0 462.6L780.0 462.6L781.0 518.5L782.0 490.6L783.0 518.5L784.0 462.6L785.0 490.6L786.0 462.6L787.0 462.6L788.0 490.6L789.0 490.6L790.0 518.5L791.0 490.6L792.0 490.6L793.0 518.5L794.0 518.5L795.0 518.5L796.0 546.5L797.0 462.6L798.0 518.5L799.0 518.5L800.0 546.5L801.0 490.6L802.0 462.6L803.0 434.7L804.0 462.6L805.0 462.6L806.0 462.6L807.0 546.5L808.0 490.6L809.0 490.6L810.0 490.6L811.0 490.6L812.0 462.6L813.0 462.6L814.0 546.5L815.0 518.5L816.0 518.5L817.0 518.5L818.0 490.6L819.0 518.5L820.0 462.6L821.0 518.5L822.0 518.5L823.0 518.5L824.0 518.5L825.0 546.5L826.0 546.5L827.0 490.6L828.0 490.6L829.0 434.7L830.0 490.6L831.0 518.5L832.0 462.6L833.0 462.6L834.0 462.6L835.0 462.6L836.0 546.5L837.0 518.5L838.0 518.5L839.0 490.6L840.0 546.5L841.0 546.5L842.0 518.5L843.0 546.5L844.0 462.6L845.0 490.6L846.0 490.6L847.0 490.6L848.0 490.6L849.0 518.5L850.0 490.6L851.0 518.5L852.0 518.5L853.0 518.5L854.0 518.5L855.0 462.6L856.0 490.6L857.0 490.6L858.0 462.6L859.0 462.6L860.0 462.6L861.0 462.6L862.0 490.6L863.0 434.7L864.0 434.7L865.0 434.7L866.0 434.7L867.0 434.7L868.0 462.6L869.0 490.6L870.0 462.6L871.0 462.6L872.0 518.5L873.0 518.5L874.0 518.5L875.0 546.5L876.0 546.5L877.0 546.5L878.0 630.4L879.0 518.5L880.0 490.6L881.0 490.6L882.0 490.6L883.0 546.5L884.0 518.5L885.0 518.5L886.0 546.5L887.0 546.5L888.0 462.6L889.0 546.5L890.0 546.5L891.0 518.5L892.0 490.6L893.0 434.7L894.0 462.6L895.0 518.5L896.0 518.5L897.0 518.5L898.0 518.5L899.0 462.6L900.0 546.5L901.0 462.6L902.0 546.5L903.0 490.6L904.0 490.6L905.0 490.6L906.0 490.6L907.0 490.6L908.0 490.6L909.0 490.6L910.0 546.5L911.0 462.6L912.0 462.6L913.0 462.6L914.0 490.6L915.0 490.6L916.0 434.7L917.0 462.6L918.0 490.6L919.0 518.5L920.0 490.6L921.0 490.6L922.0 490.6L923.0 462.6L924.0 490.6L925.0 518.5L926.0 518.5L927.0 490.6L928.0 518.5L929.0 434.7L930.0 434.7L931.0 434.7L932.0 490.6L933.0 462.6L934.0 462.6L935.0 434.7L936.0 546.5L937.0 518.5L938.0 462.6L939.0 462.6L940.0 462.6L941.0 462.6L942.0 462.6L943.0 462.6L944.0 490.6L945.0 518.5L946.0 462.6L947.0 462.6L948.0 434.7L949.0 434.7L950.0 490.6L951.0 490.6L952.0 490.6L953.0 490.6L954.0 518.5L955.0 490.6L956.0 434.7L957.0 462.6L958.0 518.5L959.0 490.6L960.0 490.6L961.0 546.5L962.0 546.5L963.0 546.5L964.0 462.6L965.0 546.5L966.0 518.5L967.0 518.5L968.0 518.5L969.0 490.6L970.0 518.5L971.0 490.6L972.0 546.5L973.0 490.6L974.0 434.7L975.0 434.7L976.0 462.6L977.0 490.6L978.0 490.6L979.0 490.6L980.0 490.6L981.0 490.6L982.0 462.6L983.0 462.6L984.0 546.5L985.0 434.7L986.0 518.5L987.0 518.5L988.0 490.6L989.0 490.6L990.0 490.6L991.0 490.6L992.0 518.5L993.0 490.6L994.0 518.5L995.0 546.5L996.0 518.5L997.0 518.5L998.0 462.6L999.0 518.5L1000.0 518.5L1001.0 546.5L1002.0 546.5L1003.0 546.5L1004.0 546.5L1005.0 490.6L1006.0 546.5L1007.0 518.5L1008.0 462.6L1009.0 434.7L1010.0 546.5L1011.0 490.6L1012.0 490.6L1013.0 518.5L1014.0 490.6L1015.0 490.6L1016.0 490.6L1017.0 462.6L1018.0 546.5L1019.0 546.5L1020.0 546.5L1021.0 546.5L1022.0 518.5L1023.0 574.5L1024.0 574.5L1025.0 574.5L1026.0 574.5L1027.0 462.6L1028.0 490.6L1029.0 490.6L1030.0 490.6L1031.0 518.5L1032.0 518.5L1033.0 518.5L1034.0 518.5L1035.0 546.5L1036.0 546.5L1037.0 546.5L1038.0 574.5L1039.0 462.6L1040.0 462.6L1041.0 462.6L1042.0 462.6L1043.0 462.6L1044.0 462.6L1045.0 462.6L1046.0 434.7L1047.0 434.7L1048.0 518.5L1049.0 518.5L1050.0 518.5L1051.0 462.6L1052.0 490.6L1053.0 490.6L1054.0 490.6L1055.0 490.6L1056.0 490.6L1057.0 518.5L1058.0 518.5L1059.0 518.5L1060.0 518.5L1061.0 490.6L1062.0 490.6L1063.0 490.6L1064.0 546.5L1065.0 518.5L1066.0 574.5L1067.0 574.5L1068.0 546.5L1069.0 546.5L1070.0 546.5L1071.0 434.7L1072.0 518.5L1073.0 518.5L1074.0 490.6L1075.0 490.6L1076.0 490.6L1077.0 490.6L1078.0 490.6L1079.0 490.6L1080.0 490.6L1081.0 518.5L1082.0 546.5L1083.0 546.5L1084.0 462.6L1085.0 574.5L1086.0 518.5L1087.0 518.5L1088.0 518.5L1089.0 518.5L1090.0 518.5L1091.0 546.5L1092.0 546.5L1093.0 546.5L1094.0 546.5L1095.0 546.5L1096.0 546.5L1097.0 546.5L1098.0 546.5L1099.0 546.5L1100.0 462.6L1101.0 462.6L1102.0 462.6L1103.0 462.6L1104.0 574.5L1105.0 518.5L1106.0 518.5L1107.0 518.5L1108.0 518.5L1109.0 518.5L1110.0 462.6L1111.0 490.6L1112.0 490.6L1113.0 490.6L1114.0 490.6L1115.0 490.6L1116.0 490.6L1117.0 490.6L1118.0 546.5L1119.0 574.5L1120.0 518.5L1121.0 518.5L1122.0 546.5L1123.0 546.5L1124.0 546.5L1125.0 518.5L1126.0 434.7L1127.0 434.7L1128.0 434.7L1129.0 434.7L1130.0 434.7L1131.0 518.5L1132.0 518.5L1133.0 518.5L1134.0 518.5L1135.0 546.5L1136.0 546.5L1137.0 490.6L1138.0 518.5L1139.0 518.5L1140.0 518.5L1141.0 546.5L1142.0 574.5L1143.0 462.6L1144.0 462.6L1145.0 462.6L1146.0 462.6L1147.0 462.6L1148.0 574.5L1149.0 574.5L1150.0 574.5L1151.0 546.5L1152.0 574.5L1153.0 574.5L1154.0 574.5L1155.0 602.4L1156.0 602.4L1157.0 462.6L1158.0 462.6L1159.0 462.6L1160.0 518.5L1161.0 518.5L1162.0 462.6L1163.0 574.5L1164.0 546.5L1165.0 546.5L1166.0 546.5L1167.0 546.5L1168.0 602.4L1169.0 602.4L1170.0 602.4L1171.0 602.4L1172.0 602.4L1173.0 602.4L1174.0 602.4L1175.0 602.4L1176.0 602.4L1177.0 490.6L1178.0 462.6L1179.0 518.5L1180.0 518.5L1181.0 490.6L1182.0 434.7L1183.0 434.7L1184.0 574.5L1185.0 574.5L1186.0 574.5L1187.0 490.6L1188.0 574.5L1189.0 574.5L1190.0 518.5L1191.0 546.5L1192.0 546.5L1193.0 546.5L1194.0 434.7L1195.0 434.7L1196.0 434.7L1197.0 434.7L1198.0 434.7L1199.0 490.6L1200.0 574.5L1201.0 546.5L1202.0 546.5L1203.0 518.5L1204.0 490.6L1205.0 490.6L1206.0 490.6L1207.0 518.5L1208.0 546.5L1209.0 546.5L1210.0 546.5L1211.0 546.5L1212.0 602.4L1213.0 602.4L1214.0 602.4L1215.0 602.4L1216.0 602.4L1217.0 602.4L1218.0 490.6L1219.0 490.6L1220.0 490.6L1221.0 490.6L1222.0 462.6L1223.0 462.6L1224.0 518.5L1225.0 518.5L1226.0 518.5L1227.0 546.5L1228.0 518.5L1229.0 462.6L1230.0 490.6L1231.0 434.7L1232.0 434.7L1233.0 434.7L1234.0 434.7L1235.0 434.7L1236.0 546.5L1237.0 546.5L1238.0 574.5L1239.0 574.5L1240.0 574.5L1241.0 434.7L1242.0 434.7L1243.0 434.7L1244.0 574.5L1245.0 462.6L1246.0 546.5L1247.0 490.6L1248.0 490.6L1249.0 490.6L1250.0 462.6L1251.0 546.5L1252.0 546.5L1253.0 490.6L1254.0 490.6L1255.0 490.6L1256.0 490.6L1257.0 490.6L1258.0 490.6L1259.0 490.6L1260.0 490.6L1261.0 490.6L1262.0 490.6L1263.0 490.6L1264.0 518.5L1265.0 518.5L1266.0 518.5L1267.0 574.5L1268.0 574.5L1269.0 574.5L1270.0 546.5L1271.0 546.5L1272.0 546.5L1273.0 546.5L1274.0 546.5L1275.0 574.5L1276.0 490.6L1277.0 462.6L1278.0 462.6L1279.0 462.6L1280.0 574.5L1281.0 546.5L1282.0 546.5L1283.0 546.5L1284.0 546.5L1285.0 546.5L1286.0 574.5L1287.0 546.5L1288.0 546.5L1289.0 546.5L1290.0 546.5L1291.0 546.5L1292.0 546.5L1293.0 546.5L1294.0 546.5L1295.0 518.5L1296.0 574.5L1297.0 574.5L1298.0 630.4L1299.0 574.5L1300.0 574.5L1301.0 574.5L1302.0 574.5L1303.0 574.5L1304.0 574.5L1305.0 574.5L1306.0 574.5L1307.0 602.4L1308.0 490.6L1309.0 546.5L1310.0 546.5L1311.0 574.5L1312.0 574.5L1313.0 518.5L1314.0 518.5L1315.0 574.5L1316.0 462.6L1317.0 462.6L1318.0 574.5L1319.0 574.5L1320.0 518.5L1321.0 546.5L1322.0 546.5L1323.0 546.5L1324.0 546.5L1325.0 546.5L1326.0 546.5L1327.0 574.5L1328.0 574.5L1329.0 546.5L1330.0 518.5L1331.0 546.5L1332.0 546.5L1333.0 602.4L1334.0 602.4L1335.0 574.5L1336.0 574.5L1337.0 546.5L1338.0 490.6L1339.0 490.6L1340.0 518.5L1341.0 490.6L1342.0 490.6L1343.0 490.6L1344.0 490.6L1345.0 602.4L1346.0 574.5L1347.0 546.5L1348.0 574.5L1349.0 574.5L1350.0 546.5L1351.0 546.5L1352.0 574.5L1353.0 574.5L1354.0 546.5L1355.0 546.5L1356.0 546.5L1357.0 546.5L1358.0 546.5L1359.0 574.5L1360.0 574.5L1361.0 574.5L1362.0 602.4L1363.0 574.5L1364.0 518.5L1365.0 518.5L1366.0 518.5L1367.0 490.6L1368.0 546.5L1369.0 490.6L1370.0 490.6L1371.0 518.5L1372.0 518.5L1373.0 490.6L1374.0 490.6L1375.0 546.5L1376.0 602.4L1377.0 630.4L1378.0 546.5L1379.0 574.5L1380.0 574.5L1381.0 462.6L1382.0 462.6L1383.0 574.5L1384.0 490.6L1385.0 462.6L1386.0 574.5L1387.0 574.5L1388.0 574.5L1389.0 546.5L1390.0 546.5L1391.0 574.5L1392.0 546.5L1393.0 490.6L1394.0 546.5L1395.0 546.5L1396.0 546.5L1397.0 518.5L1398.0 518.5L1399.0 546.5L1400.0 546.5L1401.0 546.5L1402.0 546.5L1403.0 518.5L1404.0 518.5L1405.0 518.5L1406.0 518.5L1407.0 518.5L1408.0 518.5L1409.0 546.5L1410.0 546.5L1411.0 490.6L1412.0 518.5L1413.0 518.5L1414.0 518.5L1415.0 518.5L1416.0 546.5L1417.0 574.5L1418.0 462.6L1419.0 490.6L1420.0 490.6L1421.0 574.5L1422.0 574.5L1423.0 462.6L1424.0 462.6L1425.0 546.5L1426.0 574.5L1427.0 574.5L1428.0 518.5L1429.0 518.5L1430.0 518.5L1431.0 490.6L1432.0 490.6L1433.0 462.6L1434.0 518.5L1435.0 518.5L1436.0 546.5L1437.0 546.5L1438.0 518.5L1439.0 490.6L1440.0 546.5L1441.0 546.5L1442.0 546.5L1443.0 518.5L1444.0 490.6L1445.0 546.5L1446.0 546.5L1447.0 546.5L1448.0 490.6L1449.0 490.6L1450.0 574.5L1451.0 546.5L1452.0 546.5L1453.0 518.5L1454.0 462.6L1455.0 462.6L1456.0 602.4L1457.0 546.5L1458.0 546.5L1459.0 574.5L1460.0 574.5L1461.0 546.5L1462.0 574.5L1463.0 546.5L1464.0 546.5L1465.0 518.5L1466.0 518.5L1467.0 518.5L1468.0 518.5L1469.0 518.5L1470.0 518.5L1471.0 518.5L1472.0 518.5L1473.0 490.6L1474.0 490.6L1475.0 574.5L1476.0 574.5L1477.0 574.5L1478.0 574.5L1479.0 574.5L1480.0 574.5L1481.0 602.4L1482.0 602.4L1483.0 602.4L1484.0 602.4L1485.0 602.4L1486.0 602.4L1487.0 602.4L1488.0 602.4L1489.0 602.4L1490.0 574.5L1491.0 546.5L1492.0 490.6L1493.0 490.6L1494.0 546.5L1495.0 574.5L1496.0 518.5L1497.0 518.5L1498.0 574.5L1499.0 546.5L1500.0 546.5L1501.0 546.5L1502.0 574.5L1503.0 574.5L1504.0 574.5L1505.0 546.5L1506.0 546.5L1507.0 574.5L1508.0 490.6L1509.0 490.6L1510.0 518.5L1511.0 518.5L1512.0 546.5L1513.0 574.5L1514.0 574.5L1515.0 546.5L1516.0 490.6L1517.0 490.6L1518.0 490.6L1519.0 490.6L1520.0 490.6L1521.0 490.6L1522.0 490.6L1523.0 574.5L1524.0 574.5L1525.0 546.5L1526.0 546.5L1527.0 518.5L1528.0 518.5L1529.0 518.5L1530.0 518.5L1531.0 518.5L1532.0 462.6L1533.0 462.6L1534.0 462.6L1535.0 574.5L1536.0 574.5L1537.0 518.5L1538.0 546.5L1539.0 518.5L1540.0 518.5L1541.0 518.5L1542.0 546.5L1543.0 546.5L1544.0 462.6L1545.0 462.6L1546.0 462.6L1547.0 490.6L1548.0 574.5L1549.0 574.5L1550.0 574.5L1551.0 462.6L1552.0 462.6L1553.0 462.6L1554.0 462.6L1555.0 518.5L1556.0 546.5L1557.0 518.5L1558.0 546.5L1559.0 490.6L1560.0 546.5L1561.0 546.5L1562.0 490.6L1563.0 518.5L1564.0 490.6L1565.0 490.6L1566.0 490.6L1567.0 490.6L1568.0 490.6L1569.0 518.5L1570.0 518.5L1571.0 518.5L1572.0 518.5L1573.0 518.5L1574.0 518.5L1575.0 518.5L1576.0 490.6L1577.0 518.5L1578.0 574.5L1579.0 546.5L1580.0 574.5L1581.0 574.5L1582.0 546.5L1583.0 462.6L1584.0 490.6L1585.0 546.5L1586.0 546.5L1587.0 462.6L1588.0 462.6L1589.0 462.6L1590.0 518.5L1591.0 518.5L1592.0 518.5L1593.0 490.6L1594.0 490.6L1595.0 574.5L1596.0 546.5L1597.0 462.6L1598.0 518.5L1599.0 462.6L1600.0 462.6L1601.0 462.6L1602.0 462.6L1603.0 462.6L1604.0 462.6L1605.0 518.5L1606.0 546.5L1607.0 546.5L1608.0 490.6L1609.0 490.6L1610.0 490.6L1611.0 490.6L1612.0 490.6L1613.0 518.5L1614.0 518.5L1615.0 518.5L1616.0 490.6L1617.0 462.6L1618.0 546.5L1619.0 546.5L1620.0 518.5L1621.0 518.5L1622.0 462.6L1623.0 462.6L1624.0 546.5L1625.0 546.5L1626.0 546.5L1627.0 546.5L1628.0 518.5L1629.0 462.6L1630.0 574.5L1631.0 518.5L1632.0 518.5L1633.0 518.5L1634.0 490.6L1635.0 518.5L1636.0 518.5L1637.0 518.5L1638.0 518.5L1639.0 518.5L1640.0 518.5L1641.0 518.5L1642.0 518.5L1643.0 518.5L1644.0 518.5L1645.0 518.5L1646.0 518.5L1647.0 490.6L1648.0 490.6L1649.0 490.6L1650.0 462.6L1651.0 490.6L1652.0 546.5L1653.0 518.5L1654.0 574.5L1655.0 574.5L1656.0 574.5L1657.0 546.5L1658.0 546.5L1659.0 546.5L1660.0 546.5L1661.0 462.6L1662.0 546.5L1663.0 546.5L1664.0 462.6L1665.0 490.6L1666.0 518.5L1667.0 518.5L1668.0 490.6L1669.0 490.6L1670.0 490.6L1671.0 490.6L1672.0 518.5L1673.0 546.5L1674.0 546.5L1675.0 546.5L1676.0 462.6L1677.0 462.6L1678.0 462.6L1679.0 462.6L1680.0 546.5L1681.0 546.5L1682.0 546.5L1683.0 546.5L1684.0 518.5L1685.0 546.5L1686.0 574.5L1687.0 574.5L1688.0 574.5L1689.0 462.6L1690.0 546.5L1691.0 574.5L1692.0 518.5L1693.0 546.5L1694.0 462.6L1695.0 574.5L1696.0 574.5L1697.0 490.6L1698.0 490.6L1699.0 490.6L1700.0 518.5L1701.0 518.5L1702.0 574.5L1703.0 574.5L1704.0 518.5L1705.0 518.5L1706.0 518.5L1707.0 518.5L1708.0 490.6L1709.0 490.6L1710.0 490.6L1711.0 462.6L1712.0 462.6L1713.0 462.6L1714.0 462.6L1715.0 490.6L1716.0 490.6L1717.0 490.6L1718.0 490.6L1719.0 574.5L1720.0 546.5L1721.0 462.6L1722.0 546.5L1723.0 546.5L1724.0 546.5L1725.0 518.5L1726.0 518.5L1727.0 490.6L1728.0 574.5L1729.0 574.5L1730.0 462.6L1731.0 462.6L1732.0 490.6L1733.0 490.6L1734.0 518.5L1735.0 546.5L1736.0 518.5L1737.0 518.5L1738.0 518.5L1739.0 518.5L1740.0 462.6L1741.0 462.6L1742.0 518.5L1743.0 490.6L1744.0 490.6L1745.0 490.6L1746.0 546.5L1747.0 546.5L1748.0 546.5L1749.0 518.5L1750.0 546.5L1751.0 462.6L1752.0 462.6L1753.0 462.6L1754.0 574.5L1755.0 574.5L1756.0 490.6L1757.0 490.6L1758.0 490.6L1759.0 462.6" stroke="#008080"/>
<path d="M257.0 518.5L258.0 518.5L259.0 518.5L260.0 518.5L261.0 546.5L262.0 546.5L263.0 490.6L264.0 518.5L265.0 546.5L266.0 546.5L267.0 546.5L268.0 490.6L269.0 490.6L270.0 546.5L271.0 490.6L272.0 490.6L273.0 490.6L274.0 490.6L275.0 490.6L276.0 490.6L277.0 490.6L278.0 546.5L279.0 546.5L280.0 518.5L281.0 518.5L282.0 518.5L283.0 490.6L284.0 490.6L285.0 490.6L286.0 546.5L287.0 546.5L288.0 546.5L289.0 518.5L290.0 546.5L291.0 546.5L292.0 546.5L293.0 546.5L294.0 546.5L295.0 518.5L296.0 518.5L297.0 490.6L298.0 546.5L299.0 546.5L300.0 546.5L301.0 546.5L302.0 490.6L303.0 490.6L304.0 490.6L305.0 518.5L306.0 490.6L307.0 518.5L308.0 546.5L309.0 490.6L310.0 490.6L311.0 490.6L312.0 490.6L313.0 518.5L314.0 490.6L316.0 434.7L317.5 434.7L318.5 462.6L319.5 462.6L320.5 490.6L321.5 490.6L322.5 490.6L323.5 462.6L324.5 490.6L325.5 490.6L326.5 490.6L327.5 490.6L328.5 490.6L329.5 490.6L330.0 518.5L331.0 518.5L332.0 518.5L333.0 518.5L334.0 518.5L335.0 518.5L336.0 518.5L337.0 518.5L338.0 518.5L339.0 518.5L340.0 518.5L341.0 518.5L342.0 518.5L343.0 518.5L344.0 518.5L345.0 518.5L346.0 518.5L347.0 518.5L348.0 490.6L349.0 490.6L350.0 518.5L351.0 518.5L352.0 518.5L353.0 518.5L354.0 518.5L355.0 518.5L356.0 518.5L357.0 546.5L358.0 518.5L359.0 518.5L360.0 518.5L361.0 546.5L362.0 546.5L363.0 546.5L364.0 518.5L365.0 546.5L366.0 518.5L367.0 546.5L368.0 518.5L369.0 546.5L370.0 490.6L371.0 518.5L372.0 546.5L373.0 546.5L374.0 490.6L375.0 490.6L376.0 490.6L377.0 490.6L378.0 518.5L379.0 518.5L380.0 490.6L381.0 546.5L382.0 546.5L383.0 490.6L384.0 490.6L385.0 490.6L386.0 490.6L387.0 546.5L388.0 546.5L389.0 546.5L390.0 546.5L391.0 518.5L392.0 518.5L393.0 518.5L394.0 518.5L395.0 546.5L396.0 546.5L397.0 546.5L398.0 546.5L399.0 546.5L400.0 546.5L401.0 546.5L402.0 518.5L403.0 518.5L404.0 490.6L405.0 490.6L406.0 490.6L407.0 490.6L408.0 490.6L409.0 490.6L410.0 490.6L411.0 490.6L412.0 546.5L413.0 546.5L414.0 546.5L415.0 546.5L416.0 490.6L417.0 518.5L418.0 518.5L419.0 518.5L420.0 518.5L421.0 490.6L422.0 490.6L423.0 490.6L424.0 546.5L425.0 546.5L426.0 490.6L427.0 490.6L428.0 490.6L429.0 490.6L430.0 518.5L431.0 490.6L432.0 490.6L433.0 490.6L434.0 490.6L435.0 490.6L436.0 518.5L437.0 518.5L438.0 490.6L439.0 490.6L440.0 518.5L441.0 490.6L442.0 518.5L443.0 546.5L444.0 546.5L445.0 546.5L446.0 490.6L447.0 518.5L448.0 546.5L449.0 518.5L450.0 490.6L451.0 490.6L452.0 490.6L453.0 490.6L454.0 518.5L455.0 518.5L456.0 518.5L457.0 518.5L458.0 490.6L459.0 546.5L460.0 546.5L461.0 546.5L462.0 518.5L463.0 518.5L464.0 518.5L465.0 518.5L466.0 518.5L467.0 518.5L468.0 490.6L469.0 490.6L470.0 490.6L471.0 490.6L472.0 518.5L473.0 546.5L474.0 546.5L475.0 546.5L476.0 518.5L477.0 546.5L478.0 546.5L479.0 546.5L480.0 546.5L481.0 546.5L482.0 518.5L483.0 490.6L484.0 490.6L485.0 518.5L486.0 518.5L487.0 490.6L488.0 490.6L489.0 518.5L490.0 518.5L491.0 518.5L492.0 518.5L493.0 490.6L494.0 518.5L495.0 546.5L496.0 518.5L497.0 518.5L498.0 518.5L499.0 490.6L500.0 518.5L501.0 546.5L502.0 546.5L503.0 518.5L504.0 518.5L505.0 546.5L506.0 518.5L507.0 490.6L508.0 462.6L509.0 462.6L510.0 490.6L511.0 490.6L512.0 490.6L513.0 518.5L514.0 518.5L515.0 546.5L516.0 490.6L517.0 490.6L518.0 490.6L519.0 518.5L520.0 546.5L521.0 546.5L522.0 546.5L523.0 546.5L524.0 546.5L525.0 546.5L526.0 546.5L527.0 490.6L528.0 490.6L529.0 490.6L530.0 490.6L531.0 518.5L532.0 518.5L533.0 518.5L534.0 490.6L535.0 490.6L536.0 490.6L537.0 490.6L538.0 490.6L539.0 490.6L540.0 490.6L541.0 518.5L542.0 518.5L543.0 518.5L544.0 490.6L545.0 546.5L546.0 518.5L547.0 518.5L548.0 490.6L549.0 490.6L550.0 490.6L551.0 490.6L552.0 490.6L553.0 490.6L554.0 490.6L555.0 490.6L556.0 490.6L557.0 490.6L558.0 490.6L559.0 462.6L560.0 518.5L561.0 518.5L562.0 518.5L563.0 518.5L564.0 490.6L565.0 490.6L566.0 490.6L567.0 518.5L568.0 490.6L569.0 546.5L570.0 518.5L571.0 518.5L572.0 518.5L573.0 518.5L574.0 518.5L575.0 518.5L576.0 518.5L577.0 518.5L578.0 546.5L579.0 546.5L580.0 518.5L581.0 546.5L582.0 518.5L583.0 518.5L584.0 546.5L585.0 546.5L586.0 546.5L587.0 546.5L588.0 546.5L589.0 546.5L590.0 546.5L591.0 490.6L592.0 490.6L593.0 546.5L594.0 546.5L595.0 490.6L596.0 490.6L597.0 546.5L598.0 546.5L599.0 546.5L600.0 518.5L601.0 518.5L602.0 490.6L603.0 462.6L604.0 462.6L605.0 462.6L606.0 434.7L607.0 434.7L608.0 462.6L609.0 462.6L610.0 462.6L611.0 462.6L612.0 518.5L613.0 546.5L614.0 546.5L615.0 518.5L616.0 490.6L617.0 546.5L618.0 518.5L619.0 518.5L620.0 490.6L621.0 518.5L622.0 546.5L623.0 546.5L624.0 490.6L625.0 490.6L626.0 518.5L627.0 518.5L628.0 518.5L629.0 490.6L630.0 518.5L631.0 490.6L632.0 546.5L633.0 546.5L634.0 518.5L635.0 490.6L636.0 518.5L637.0 546.5L638.0 490.6L639.0 490.6L640.0 518.5L641.0 490.6L642.0 490.6L643.0 462.6L644.0 518.5L645.0 518.5L646.0 546.5L647.0 546.5L648.0 518.5L649.0 490.6L650.0 546.5L651.0 490.6L652.0 546.5L653.0 518.5L654.0 518.5L655.0 546.5L656.0 490.6L657.0 462.6L658.0 490.6L659.0 490.6L660.0 518.5L661.0 490.6L662.0 518.5L663.0 490.6L664.0 490.6L665.0 490.6L666.0 462.6L667.0 434.7L668.0 546.5L669.0 546.5L670.0 518.5L671.0 490.6L672.0 518.5L673.0 490.6L674.0 518.5L675.0 490.6L676.0 462.6L677.0 490.6L678.0 462.6L679.0 462.6L680.0 518.5L681.0 546.5L682.0 518.5L683.0 518.5L684.0 490.6L685.0 490.6L686.0 546.5L687.0 490.6L688.0 518.5L689.0 546.5L690.0 518.5L691.0 518.5L692.0 490.6L693.0 462.6L694.0 462.6L695.0 406.8L696.0 546.5L697.0 518.5L698.0 518.5L699.0 462.6L700.0 406.8L701.0 462.6L702.0 490.6L703.0 490.6L704.0 518.5L705.0 518.5L706.0 462.6L707.0 546.5L708.0 546.5L709.0 546.5L710.0 546.5L711.0 546.5L712.0 546.5L713.0 518.5L714.0 490.6L715.0 546.5L716.0 490.6L717.0 462.6L718.0 462.6L719.0 546.5L720.0 490.6L721.0 546.5L722.0 518.5L723.0 546.5L724.0 518.5L725.0 518.5L726.0 518.5L727.0 546.5L728.0 518.5L729.0 546.5L730.0 518.5L731.0 546.5L732.0 518.5L733.0 490.6L734.0 546.5L735.0 518.5L736.0 546.5L737.0 490.6L738.0 490.6L739.0 462.6L740.0 490.6L741.0 490.6L742.0 490.6L743.0 518.5L744.0 490.6L745.0 490.6L746.0 518.5L747.0 518.5L748.0 518.5L749.0 518.5L750.0 546.5L751.0 490.6L752.0 462.6L753.0 462.6L754.0 462.6L755.0 518.5L756.0 490.6L757.0 462.6L758.0 490.6L759.0 462.6L760.0 490.6L761.0 490.6L762.0 518.5L763.0 434.7L764.0 462.6L765.0 518.5L766.0 490.6L767.0 518.5L768.0 462.6L769.0 490.6L770.0 490.6L771.0 518.5L772.0 462.6L773.0 546.5L774.0 518.5L775.0 434.7L776.0 518.5L777.0 490.6L778.0 490.6L779.0 490.6L780.0 490.6L781.0 546.5L782.0 518.5L783.0 518.5L784.0 518.5L785.0 546.5L786.0 518.5L787.0 518.5L788.0 518.5L789.0 462.6L790.0 462.6L791.0 518.5L792.0 546.5L793.0 546.5L794.0 518.5L795.0 462.6L796.0 490.6L797.0 462.6L798.0 462.6L799.0 434.7L800.0 546.5L801.0 490.6L802.0 518.5L803.0 490.6L804.0 490.6L805.0 518.5L806.0 518.5L807.0 518.5L808.0 518.5L809.0 518.5L810.0 434.7L811.0 462.6L812.0 546.5L813.0 490.6L814.0 546.5L815.0 518.5L816.0 518.5L817.0 518.5L818.0 434.7L819.0 462.6L820.0 490.6L821.0 518.5L822.0 490.6L823.0 462.6L824.0 490.6L825.0 518.5L826.0 490.6L827.0 490.6L828.0 462.6L829.0 462.6L830.0 490.6L831.0 518.5L832.0 462.6L833.0 462.6L834.0 462.6L835.0 490.6L836.0 518.5L837.0 490.6L838.0 546.5L839.0 546.5L840.0 546.5L841.0 546.5L842.0 518.5L843.0 490.6L844.0 434.7L845.0 490.6L846.0 518.5L847.0 490.6L848.0 462.6L849.0 462.6L850.0 434.7L851.0 490.6L852.0 518.5L853.0 490.6L854.0 434.7L855.0 462.6L856.0 490.6L857.0 462.6L858.0 518.5L859.0 518.5L860.0 462.6L861.0 518.5L862.0 518.5L863.0 490.6L864.0 518.5L865.0 490.6L866.0 462.6L867.0 490.6L868.0 462.6L869.0 462.6L870.0 518.5L871.0 518.5L872.0 546.5L873.0 546.5L874.0 518.5L875.0 518.5L876.0 518.5L877.0 462.6L878.0 490.6L879.0 462.6L880.0 490.6L881.0 490.6L882.0 462.6L883.0 490.6L884.0 490.6L885.0 546.5L886.0 518.5L887.0 462.6L888.0 490.6L889.0 490.6L890.0 462.6L891.0 434.7L892.0 518.5L893.0 518.5L894.0 490.6L895.0 490.6L896.0 518.5L897.0 518.5L898.0 518.5L899.0 546.5L900.0 546.5L901.0 434.7L902.0 546.5L903.0 518.5L904.0 490.6L905.0 462.6L906.0 490.6L907.0 462.6L908.0 462.6L909.0 490.6L910.0 462.6L911.0 462.6L912.0 434.7L913.0 518.5L914.0 518.5L915.0 518.5L916.0 518.5L917.0 490.6L918.0 490.6L919.0 490.6L920.0 490.6L921.0 490.6L922.0 518.5L923.0 462.6L924.0 462.6L925.0 490.6L926.0 462.6L927.0 518.5L928.0 462.6L929.0 490.6L930.0 518.5L931.0 490.6L932.0 490.6L933.0 490.6L934.0 462.6L935.0 462.6L936.0 462.6L937.0 490.6L938.0 490.6L939.0 462.6L940.0 462.6L941.0 490.6L942.0 462.6L943.0 434.7L944.0 490.6L945.0 518.5L946.0 434.7L947.0 434.7L948.0 518.5L949.0 518.5L950.0 462.6L951.0 462.6L952.0 434.7L953.0 518.5L954.0 518.5L955.0 490.6L956.0 490.6L957.0 434.7L958.0 490.6L959.0 518.5L960.0 490.6L961.0 490.6L962.0 518.5L963.0 518.5L964.0 490.6L965.0 434.7L966.0 490.6L967.0 518.5L968.0 518.5L969.0 518.5L970.0 490.6L971.0 490.6L972.0 518.5L973.0 518.5L974.0 490.6L975.0 490.6L976.0 546.5L977.0 490.6L978.0 490.6L979.0 546.5L980.0 434.7L981.0 462.6L982.0 518.5L983.0 518.5L984.0 490.6L985.0 518.5L986.0 518.5L987.0 518.5L988.0 490.6L989.0 490.6L990.0 462.6L991.0 518.5L992.0 518.5L993.0 490.6L994.0 462.6L995.0 490.6L996.0 490.6L997.0 490.6L998.0 462.6L999.0 490.6L1000.0 490.6L1001.0 518.5L1002.0 518.5L1003.0 518.5L1004.0 518.5L1005.0 462.6L1006.0 462.6L1007.0 490.6L1008.0 462.6L1009.0 490.6L1010.0 434.7L1011.0 462.6L1012.0 490.6L1013.0 462.6L1014.0 518.5L1015.0 462.6L1016.0 490.6L1017.0 462.6L1018.0 518.5L1019.0 490.6L1020.0 490.6L1021.0 518.5L1022.0 462.6L1023.0 490.6L1024.0 462.6L1025.0 462.6L1026.0 434.7L1027.0 434.7L1028.0 434.7L1029.0 462.6L1030.0 546.5L1031.0 546.5L1032.0 462.6L1033.0 462.6L1034.0 490.6L1035.0 518.5L1036.0 462.6L1037.0 434.7L1038.0 462.6L1039.0 490.6L1040.0 490.6L1041.0 434.7L1042.0 490.6L1043.0 462.6L1044.0 462.6L1045.0 434.7L1046.0 434.7L1047.0 490.6L1048.0 462.6L1049.0 518.5L1050.0 490.6L1051.0 490.6L1052.0 546.5L1053.0 490.6L1054.0 462.6L1055.0 518.5L1056.0 518.5L1057.0 518.5L1058.0 490.6L1059.0 518.5L1060.0 518.5L1061.0 490.6L1062.0 490.6L1063.0 462.6L1064.0 546.5L1065.0 406.8L1066.0 518.5L1067.0 518.5L1068.0 490.6L1069.0 462.6L1070.0 518.5L1071.0 490.6L1072.0 518.5L1073.0 490.6L1074.0 518.5L1075.0 546.5L1076.0 546.5L1077.0 462.6L1078.0 490.6L1079.0 518.5L1080.0 518.5L1081.0 490.6L1082.0 434.7L1083.0 490.6L1084.0 462.6L1085.0 462.6L1086.0 490.6L1087.0 490.6L1088.0 518.5L1089.0 462.6L1090.0 490.6L1091.0 462.6L1092.0 490.6L1093.0 518.5L1094.0 490.6L1095.0 518.5L1096.0 462.6L1097.0 490.6L1098.0 518.5L1099.0 518.5L1100.0 518.5L1101.0 490.6L1102.0 490.6L1103.0 490.6L1104.0 490.6L1105.0 518.5L1106.0 434.7L1107.0 434.7L1108.0 490.6L1109.0 546.5L1110.0 518.5L1111.0 490.6L1112.0 518.5L1113.0 490.6L1114.0 518.5L1115.0 518.5L1116.0 490.6L1117.0 462.6L1118.0 518.5L1119.0 462.6L1120.0 490.6L1121.0 462.6L1122.0 490.6L1123.0 462.6L1124.0 462.6L1125.0 490.6L1126.0 518.5L1127.0 546.5L1128.0 490.6L1129.0 462.6L1130.0 434.7L1131.0 490.6L1132.0 518.5L1133.0 462.6L1134.0 490.6L1135.0 462.6L1136.0 462.6L1137.0 490.6L1138.0 462.6L1139.0 518.5L1140.0 434.7L1141.0 434.7L1142.0 434.7L1143.0 434.7L1144.0 462.6L1145.0 518.5L1146.0 518.5L1147.0 462.6L1148.0 490.6L1149.0 434.7L1150.0 434.7L1151.0 490.6L1152.0 462.6L1153.0 490.6L1154.0 518.5L1155.0 518.5L1156.0 490.6L1157.0 518.5L1158.0 490.6L1159.0 518.5L1160.0 490.6L1161.0 490.6L1162.0 462.6L1163.0 462.6L1164.0 490.6L1165.0 518.5L1166.0 490.6L1167.0 518.5L1168.0 518.5L1169.0 490.6L1170.0 518.5L1171.0 462.6L1172.0 462.6L1173.0 462.6L1174.0 490.6L1175.0 518.5L1176.0 518.5L1177.0 518.5L1178.0 462.6L1179.0 490.6L1180.0 462.6L1181.0 490.6L1182.0 462.6L1183.0 462.6L1184.0 490.6L1185.0 462.6L1186.0 518.5L1187.0 462.6L1188.0 518.5L1189.0 462.6L1190.0 490.6L1191.0 462.6L1192.0 434.7L1193.0 490.6L1194.0 462.6L1195.0 490.6L1196.0 462.6L1197.0 490.6L1198.0 462.6L1199.0 518.5L1200.0 462.6L1201.0 490.6L1202.0 462.6L1203.0 434.7L1204.0 434.7L1205.0 490.6L1206.0 462.6L1207.0 434.7L1208.0 518.5L1209.0 490.6L1210.0 434.7L1211.0 462.6L1212.0 490.6L1213.0 518.5L1214.0 490.6L1215.0 462.6L1216.0 490.6L1217.0 490.6L1218.0 490.6L1219.0 490.6L1220.0 518.5L1221.0 490.6L1222.0 434.7L1223.0 490.6L1224.0 546.5L1225.0 490.6L1226.0 490.6L1227.0 462.6L1228.0 518.5L1229.0 490.6L1230.0 462.6L1231.0 490.6L1232.0 462.6L1233.0 462.6L1234.0 490.6L1235.0 490.6L1236.0 518.5L1237.0 490.6L1238.0 490.6L1239.0 518.5L1240.0 490.6L1241.0 490.6L1242.0 462.6L1243.0 490.6L1244.0 434.7L1245.0 518.5L1246.0 490.6L1247.0 462.6L1248.0 518.5L1249.0 490.6L1250.0 518.5L1251.0 462.6L1252.0 490.6L1253.0 462.6L1254.0 434.7L1255.0 490.6L1256.0 518.5L1257.0 490.6L1258.0 518.5L1259.0 518.5L1260.0 462.6L1261.0 490.6L1262.0 434.7L1263.0 434.7L1264.0 462.6L1265.0 490.6L1266.0 490.6L1267.0 462.6L1268.0 490.6L1269.0 518.5L1270.0 490.6L1271.0 434.7L1272.0 434.7L1273.0 490.6L1274.0 462.6L1275.0 490.6L1276.0 546.5L1277.0 462.6L1278.0 518.5L1279.0 462.6L1280.0 546.5L1281.0 490.6L1282.0 518.5L1283.0 490.6L1284.0 462.6L1285.0 462.6L1286.0 490.6L1287.0 518.5L1288.0 462.6L1289.0 462.6L1290.0 434.7L1291.0 518.5L1292.0 518.5L1293.0 490.6L1294.0 490.6L1295.0 518.5L1296.0 462.6L1297.0 462.6L1298.0 434.7L1299.0 490.6L1300.0 518.5L1301.0 518.5L1302.0 490.6L1303.0 518.5L1304.0 490.6L1305.0 490.6L1306.0 518.5L1307.0 462.6L1308.0 490.6L1309.0 518.5L1310.0 518.5L1311.0 546.5L1312.0 490.6L1313.0 490.6L1314.0 462.6L1315.0 490.6L1316.0 462.6L1317.0 434.7L1318.0 462.6L1319.0 462.6L1320.0 518.5L1321.0 462.6L1322.0 490.6L1323.0 490.6L1324.0 546.5L1325.0 490.6L1326.0 546.5L1327.0 546.5L1328.0 518.5L1329.0 518.5L1330.0 490.6L1331.0 518.5L1332.0 518.5L1333.0 406.8L1334.0 490.6L1335.0 518.5L1336.0 546.5L1337.0 434.7L1338.0 490.6L1339.0 518.5L1340.0 490.6L1341.0 518.5L1342.0 490.6L1343.0 518.5L1344.0 490.6L1345.0 490.6L1346.0 490.6L1347.0 490.6L1348.0 546.5L1349.0 462.6L1350.0 462.6L1351.0 490.6L1352.0 434.7L1353.0 490.6L1354.0 546.5L1355.0 518.5L1356.0 546.5L1357.0 546.5L1358.0 490.6L1359.0 462.6L1360.0 406.8L1361.0 462.6L1362.0 462.6L1363.0 462.6L1364.0 518.5L1365.0 462.6L1366.0 406.8L1367.0 490.6L1368.0 518.5L1369.0 490.6L1370.0 518.5L1371.0 462.6L1372.0 490.6L1373.0 546.5L1374.0 546.5L1375.0 462.6L1376.0 518.5L1377.0 490.6L1378.0 490.6L1379.0 490.6L1380.0 490.6L1381.0 462.6L1382.0 462.6L1383.0 462.6L1384.0 490.6L1385.0 462.6L1386.0 434.7L1387.0 434.7L1388.0 434.7L1389.0 434.7L1390.0 434.7L1391.0 462.6L1392.0 490.6L1393.0 462.6L1394.0 490.6L1395.0 462.6L1396.0 490.6L1397.0 462.6L1398.0 462.6L1399.0 490.6L1400.0 462.6L1401.0 546.5L1402.0 546.5L1403.0 518.5L1404.0 490.6L1405.0 490.6L1406.0 462.6L1407.0 490.6L1408.0 462.6L1409.0 490.6L1410.0 518.5L1411.0 462.6L1412.0 490.6L1413.0 518.5L1414.0 490.6L1415.0 490.6L1416.0 518.5L1417.0 434.7L1418.0 434.7L1419.0 518.5L1420.0 490.6L1421.0 434.7L1422.0 490.6L1423.0 490.6L1424.0 518.5L1425.0 546.5L1426.0 434.7L1427.0 490.6L1428.0 546.5L1429.0 462.6L1430.0 518.5L1431.0 546.5L1432.0 490.6L1433.0 518.5L1434.0 434.7L1435.0 434.7L1436.0 462.6L1437.0 490.6L1438.0 462.6L1439.0 490.6L1440.0 490.6L1441.0 462.6L1442.0 434.7L1443.0 462.6L1444.0 462.6L1445.0 434.7L1446.0 490.6L1447.0 490.6L1448.0 462.6L1449.0 490.6L1450.0 518.5L1451.0 518.5L1452.0 546.5L1453.0 518.5L1454.0 462.6L1455.0 490.6L1456.0 518.5L1457.0 490.6L1458.0 462.6L1459.0 434.7L1460.0 490.6L1461.0 462.6L1462.0 490.6L1463.0 490.6L1464.0 518.5L1465.0 490.6L1466.0 518.5L1467.0 490.6L1468.0 490.6L1469.0 462.6L1470.0 490.6L1471.0 462.6L1472.0 462.6L1473.0 490.6L1474.0 490.6L1475.0 518.5L1476.0 490.6L1477.0 462.6L1478.0 490.6L1479.0 546.5L1480.0 490.6L1481.0 434.7L1482.0 490.6L1483.0 490.6L1484.0 490.6L1485.0 518.5L1486.0 518.5L1487.0 434.7L1488.0 462.6L1489.0 490.6L1490.0 490.6L1491.0 462.6L1492.0 490.6L1493.0 518.5L1494.0 434.7L1495.0 490.6L1496.0 462.6L1497.0 490.6L1498.0 462.6L1499.0 462.6L1500.0 518.5L1501.0 462.6L1502.0 462.6L1503.0 490.6L1504.0 462.6L1505.0 490.6L1506.0 518.5L1507.0 490.6L1508.0 462.6L1509.0 462.6L1510.0 518.5L1511.0 490.6L1512.0 490.6L1513.0 518.5L1514.0 490.6L1515.0 518.5L1516.0 518.5L1517.0 434.7L1518.0 462.6L1519.0 518.5L1520.0 490.6L1521.0 490.6L1522.0 434.7L1523.0 490.6L1524.0 518.5L1525.0 490.6L1526.0 518.5L1527.0 490.6L1528.0 462.6L1529.0 462.6L1530.0 490.6L1531.0 462.6L1532.0 490.6L1533.0 518.5L1534.0 462.6L1535.0 462.6L1536.0 490.6L1537.0 462.6L1538.0 490.6L1539.0 518.5L1540.0 490.6L1541.0 518.5L1542.0 462.6L1543.0 518.5L1544.0 518.5L1545.0 490.6L1546.0 490.6L1547.0 518.5L1548.0 490.6L1549.0 518.5L1550.0 490.6L1551.0 518.5L1552.0 490.6L1553.0 518.5L1554.0 462.6L1555.0 490.6L1556.0 462.6L1557.0 434.7L1558.0 434.7L1559.0 462.6L1560.0 490.6L1561.0 518.5L1562.0 490.6L1563.0 518.5L1564.0 462.6L1565.0 434.7L1566.0 490.6L1567.0 462.6L1568.0 434.7L1569.0 490.6L1570.0 518.5L1571.0 490.6L1572.0 462.6L1573.0 518.5L1574.0 462.6L1575.0 434.7L1576.0 462.6L1577.0 462.6L1578.0 462.6L1579.0 434.7L1580.0 462.6L1581.0 518.5L1582.0 434.7L1583.0 462.6L1584.0 518.5L1585.0 434.7L1586.0 518.5L1587.0 406.8L1588.0 462.6L1589.0 490.6L1590.0 462.6L1591.0 490.6L1592.0 518.5L1593.0 490.6L1594.0 462.6L1595.0 462.6L1596.0 490.6L1597.0 518.5L1598.0 434.7L1599.0 462.6L1600.0 434.7L1601.0 462.6L1602.0 462.6L1603.0 490.6L1604.0 462.6L1605.0 490.6L1606.0 518.5L1607.0 462.6L1608.0 462.6L1609.0 490.6L1610.0 462.6L1611.0 518.5L1612.0 406.8L1613.0 462.6L1614.0 490.6L1615.0 518.5L1616.0 490.6L1617.0 518.5L1618.0 490.6L1619.0 462.6L1620.0 490.6L1621.0 490.6L1622.0 518.5L1623.0 518.5L1624.0 490.6L1625.0 462.6L1626.0 462.6L1627.0 434.7L1628.0 518.5L1629.0 490.6L1630.0 462.6L1631.0 490.6L1632.0 518.5L1633.0 462.6L1634.0 434.7L1635.0 518.5L1636.0 434.7L1637.0 490.6L1638.0 518.5L1639.0 434.7L1640.0 518.5L1641.0 490.6L1642.0 490.6L1643.0 518.5L1644.0 490.6L1645.0 490.6L1646.0 490.6L1647.0 490.6L1648.0 490.6L1649.0 462.6L1650.0 490.6L1651.0 490.6L1652.0 378.8L1653.0 434.7L1654.0 434.7L1655.0 434.7L1656.0 462.6L1657.0 518.5L1658.0 490.6L1659.0 434.7L1660.0 434.7L1661.0 462.6L1662.0 434.7L1663.0 462.6L1664.0 434.7L1665.0 434.7L1666.0 490.6L1667.0 518.5L1668.0 490.6L1669.0 434.7L1670.0 434.7L1671.0 434.7L1672.0 462.6L1673.0 490.6L1674.0 518.5L1675.0 490.6L1676.0 518.5L1677.0 434.7L1678.0 462.6L1679.0 434.7L1680.0 462.6L1681.0 490.6L1682.0 490.6L1683.0 462.6L1684.0 462.6L1685.0 490.6L1686.0 490.6L1687.0 434.7L1688.0 462.6L1689.0 518.5L1690.0 490.6L1691.0 518.5L1692.0 490.6L1693.0 490.6L1694.0 462.6L1695.0 462.6L1696.0 490.6L1697.0 518.5L1698.0 434.7L1699.0 490.6L1700.0 518.5L1701.0 490.6L1702.0 490.6L1703.0 490.6L1704.0 518.5L1705.0 490.6L1706.0 490.6L1707.0 490.6L1708.0 462.6L1709.0 462.6L1710.0 462.6L1711.0 462.6L1712.0 462.6L1713.0 434.7L1714.0 434.7L1715.0 434.7L1716.0 490.6L1717.0 490.6L1718.0 462.6L1719.0 462.6L1720.0 518.5L1721.0 518.5L1722.0 518.5L1723.0 462.6L1724.0 462.6L1725.0 490.6L1726.0 518.5L1727.0 490.6L1728.0 462.6L1729.0 490.6L1730.0 518.5L1731.0 490.6L1732.0 490.6L1733.0 490.6L1734.0 462.6L1735.0 434.7L1736.0 490.6L1737.0 490.6L1738.0 490.6L1739.0 518.5L1740.0 490.6L1741.0 462.6L1742.0 518.5L1743.0 490.6L1744.0 518.5L1745.0 406.8L1746.0 434.7L1747.0 462.6L1748.0 434.7L1749.0 434.7L1750.0 490.6L1751.0 462.6L1752.0 518.5L1753.0 462.6L1754.0 462.6L1755.0 518.5L1756.0 462.6L1757.0 434.7L1758.0 518.5L1759.0 518.5" stroke="#ff00ff"/>
</g>
<g fill="#fff">
<rect x="1257.5" y="70.5" width="282" height="335" fill="#fff" stroke="#000" stroke-width="3"/>
</g>
<g clip-path="url(#lc)" font-size="58">
<path d="M1263 104.5H1386" stroke="#000000" stroke-width="3" stroke-linecap="round"/>
<text transform="translate(1400 123.5) scale(0.935 1)" letter-spacing="-2">0V</text>
<path d="M1263 171.7H1386" stroke="#ff0000" stroke-width="3" stroke-linecap="round"/>
<text transform="translate(1400 190.7) scale(0.935 1)" letter-spacing="-2">-50V</text>
<path d="M1263 238.9H1386" stroke="#0000ff" stroke-width="3" stroke-linecap="round"/>
<text transform="translate(1400 257.9) scale(0.935 1)" letter-spacing="-2">-100V</text>
<path d="M1263 306.1H1386" stroke="#008080" stroke-width="3" stroke-linecap="round"/>
<text transform="translate(1400 325.1) scale(0.935 1)" letter-spacing="-2">-150V</text>
<path d="M1263 373.3H1386" stroke="#ff00ff" stroke-width="3" stroke-linecap="round"/>
<text transform="translate(1400 392.3) scale(0.935 1)" letter-spacing="-2">-200V</text>
</g>
<path d="M1257.5 70.5h282v335h-282z" fill="none" stroke="#000" stroke-width="3"/>
<path d="M255.0 1180V1199.3M506.1 1180V1199.3M757.2 1180V1199.3M1008.2 1180V1199.3M1259.3 1180V1199.3M1510.4 1180V1199.3M1761.5 1180V1199.3M380.5 1180V1188M631.6 1180V1188M882.7 1180V1188M1133.8 1180V1188M1384.9 1180V1188M1636.0 1180V1188M252 1084.0H233M252 897.9H233M252 711.8H233M252 525.7H233M252 339.6H233M252 153.5H233M252 1177.0H243.7M252 990.9H243.7M252 804.8H243.7M252 618.8H243.7M252 432.7H243.7M252 246.6H243.7M252 60.5H243.7" stroke="#000" stroke-width="5.5" stroke-linecap="round" fill="none"/>
<path d="M252 60.5H1764" stroke="#000" stroke-width="5" fill="none"/>
<path d="M1761.5 58V1180" stroke="#000" stroke-width="5" fill="none"/>
<path d="M252 1177H1764" stroke="#000" stroke-width="6" fill="none"/>
<path d="M255 58V1180" stroke="#000" stroke-width="6" fill="none"/>
<g font-size="51" letter-spacing="-1.8"><text x="218.5" y="1096.5" text-anchor="end">0.1</text><text x="218.5" y="910.4" text-anchor="end">0.2</text><text x="218.5" y="724.3" text-anchor="end">0.3</text><text x="218.5" y="538.2" text-anchor="end">0.4</text><text x="218.5" y="352.1" text-anchor="end">0.5</text><text x="218.5" y="166.0" text-anchor="end">0.6</text><text x="255.0" y="1250" text-anchor="middle">0</text><text x="506.1" y="1250" text-anchor="middle">50</text><text x="757.2" y="1250" text-anchor="middle">100</text><text x="1008.2" y="1250" text-anchor="middle">150</text><text x="1259.3" y="1250" text-anchor="middle">200</text><text x="1510.4" y="1250" text-anchor="middle">250</text><text x="1761.5" y="1250" text-anchor="middle">300</text></g>
<text transform="translate(840 1361) scale(0.935 1)" font-size="57.6" letter-spacing="-1.3">Time (s)</text>
<text transform="translate(94.5 835.3) rotate(-90) scale(0.963 1)" font-size="57">Friction coefficient</text>
</svg>
</body></html>
